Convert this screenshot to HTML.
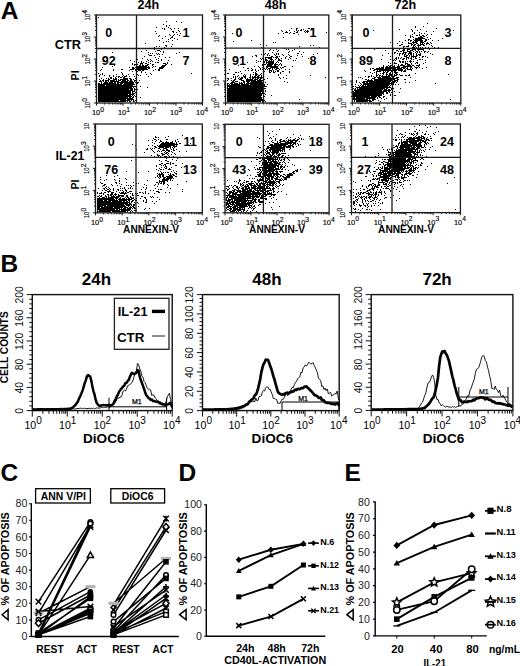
<!DOCTYPE html>
<html><head><meta charset="utf-8"><title>Figure</title>
<style>html,body{margin:0;padding:0;background:#fff;width:520px;height:666px;overflow:hidden}svg{display:block}</style>
</head><body>
<svg width="520" height="666" viewBox="0 0 520 666" font-family='"Liberation Sans", sans-serif'><defs><filter id="bl" x="-5%" y="-5%" width="110%" height="110%"><feGaussianBlur stdDeviation="0.35"/></filter></defs><text x="0.8" y="18.6" font-size="24.5" font-weight="bold">A</text>
<text x="0.6" y="272" font-size="24.5" font-weight="bold">B</text>
<text x="0.4" y="480.6" font-size="24.5" font-weight="bold">C</text>
<text x="178.6" y="480.8" font-size="24.5" font-weight="bold">D</text>
<text x="344.6" y="480.8" font-size="24.5" font-weight="bold">E</text>
<path d="M98 17.5h1M166 21.5h1M176 21.5h1M181 22.5h1M163 24.5h1M166 25.5h1M169 25.5h1M166 26.5h1M156 27.5h1M168 27.5h1M162 28.5h1M164 28.5h1M170 28.5h1M174 28.5h1M178 28.5h1M164 29.5h1M171 29.5h1M178 30.5h1M155 31.5h1M172 31.5h2M179 31.5h1M173 32.5h1M176 32.5h1M156 33.5h1M180 33.5h1M169 34.5h1M174 34.5h1M177 34.5h1M159 35.5h1M170 35.5h1M173 35.5h1M179 35.5h1M158 36.5h1M165 36.5h1M172 36.5h1M171 37.5h2M162 38.5h1M170 38.5h1M174 38.5h1M168 39.5h1M177 39.5h1M159 40.5h1M172 40.5h1M166 41.5h1M168 41.5h1M163 42.5h1M145 43.5h1M172 44.5h1M165 45.5h2M156 46.5h1M159 46.5h1M166 46.5h1M171 46.5h1M154 47.5h1M164 47.5h1M145 48.5h1M153 48.5h1M158 48.5h2M163 48.5h1M167 48.5h1M172 48.5h1M187 48.5h1M154 49.5h1M161 49.5h1M146 50.5h1M157 50.5h3M141 51.5h1M155 51.5h1M160 51.5h1M163 51.5h1M112 52.5h1M148 52.5h1M163 52.5h1M179 52.5h1M150 53.5h1M152 53.5h1M156 53.5h1M158 53.5h1M176 53.5h1M148 54.5h1M157 54.5h1M159 54.5h1M162 54.5h1M149 55.5h3M154 55.5h1M144 56.5h1M159 56.5h1M155 57.5h1M165 57.5h1M169 57.5h1M142 58.5h1M158 58.5h1M137 59.5h1M147 59.5h1M150 59.5h1M156 59.5h1M161 59.5h1M104 60.5h1M130 60.5h1M148 60.5h1M151 60.5h1M158 60.5h1M161 60.5h1M168 60.5h1M134 61.5h1M141 61.5h1M146 61.5h1M150 61.5h1M152 61.5h1M138 62.5h1M141 62.5h1M143 62.5h1M148 62.5h1M155 62.5h1M157 62.5h2M167 62.5h1M132 63.5h1M140 63.5h3M145 63.5h2M150 63.5h1M163 63.5h3M167 63.5h1M132 64.5h1M134 64.5h2M137 64.5h1M140 64.5h1M142 64.5h1M147 64.5h2M152 64.5h2M165 64.5h2M171 64.5h1M114 65.5h1M134 65.5h1M136 65.5h1M139 65.5h2M142 65.5h2M145 65.5h3M152 65.5h1M162 65.5h4M112 66.5h1M137 66.5h10M148 66.5h1M153 66.5h1M155 66.5h1M161 66.5h4M102 67.5h1M129 67.5h1M132 67.5h2M135 67.5h15M152 67.5h1M159 67.5h5M132 68.5h3M137 68.5h10M148 68.5h2M159 68.5h4M101 69.5h1M113 69.5h1M121 69.5h2M130 69.5h4M135 69.5h13M155 69.5h1M158 69.5h2M100 70.5h1M113 70.5h1M129 70.5h1M135 70.5h2M138 70.5h3M142 70.5h2M153 70.5h1M158 70.5h2M132 71.5h1M137 71.5h1M141 71.5h1M121 72.5h1M141 72.5h1M145 72.5h1M98 73.5h1M102 73.5h1M122 73.5h1M136 73.5h1M150 73.5h1M191 73.5h1M100 74.5h1M102 74.5h1M116 74.5h1M122 74.5h1M128 74.5h1M133 74.5h1M137 74.5h1M146 74.5h1M151 74.5h1M99 75.5h1M104 75.5h1M109 75.5h1M113 75.5h1M123 75.5h1M126 75.5h1M138 75.5h1M140 75.5h1M99 76.5h1M109 76.5h1M113 76.5h1M116 76.5h1M118 76.5h2M122 76.5h1M124 76.5h3M129 76.5h1M134 76.5h1M148 76.5h1M110 77.5h2M115 77.5h1M118 77.5h1M120 77.5h2M123 77.5h2M101 78.5h1M106 78.5h1M108 78.5h1M110 78.5h2M113 78.5h1M115 78.5h2M123 78.5h5M129 78.5h2M135 78.5h1M99 79.5h1M103 79.5h1M108 79.5h2M113 79.5h4M118 79.5h1M120 79.5h8M130 79.5h2M133 79.5h1M100 80.5h1M102 80.5h2M105 80.5h4M110 80.5h5M116 80.5h1M118 80.5h3M122 80.5h4M127 80.5h2M130 80.5h2M134 80.5h2M139 80.5h1M99 81.5h3M103 81.5h1M105 81.5h2M108 81.5h1M110 81.5h9M121 81.5h7M129 81.5h4M134 81.5h1M136 81.5h1M101 82.5h1M104 82.5h4M109 82.5h4M114 82.5h2M117 82.5h17M135 82.5h1M137 82.5h2M98 83.5h2M101 83.5h1M103 83.5h13M117 83.5h2M120 83.5h3M124 83.5h10M137 83.5h1M98 84.5h24M123 84.5h12M98 85.5h7M106 85.5h27M136 85.5h1M98 86.5h38M140 86.5h1M98 87.5h34M133 87.5h1M147 87.5h1M98 88.5h35M134 88.5h1M136 88.5h1M98 89.5h31M130 89.5h3M134 89.5h2M137 89.5h1M98 90.5h35M134 90.5h1M98 91.5h33M132 91.5h3M136 91.5h1M98 92.5h33M132 92.5h1M135 92.5h2M98 93.5h33M132 93.5h3M98 94.5h30M129 94.5h5M98 95.5h33M132 95.5h1M134 95.5h1M98 96.5h34M133 96.5h1M135 96.5h1M98 97.5h30M129 97.5h2M132 97.5h2M136 97.5h1M140 97.5h1M98 98.5h35M98 99.5h28M127 99.5h7M98 100.5h21M120 100.5h10M131 100.5h1M133 100.5h1M135 100.5h1M98 101.5h28M127 101.5h1M129 101.5h2M133 101.5h2" stroke="#000" stroke-width="1" filter="url(#bl)"/>
<rect x="96.5" y="15" width="106" height="88" stroke="#1a1a1a" stroke-width="1.3" fill="none"/>
<path d="M136.5 15L136.5 103" stroke="#1a1a1a" stroke-width="1.3"/>
<path d="M96.5 48.5L202.5 48.5" stroke="#1a1a1a" stroke-width="1.3"/>
<path d="M96.5 103v2.6M96.5 103h-2.6M104.48 103v1.5M96.5 96.38h-1.5M109.14 103v1.5M96.5 92.5h-1.5M112.45 103v1.5M96.5 89.75h-1.5M115.02 103v1.5M96.5 87.62h-1.5M117.12 103v1.5M96.5 85.88h-1.5M118.9 103v1.5M96.5 84.41h-1.5M120.43 103v1.5M96.5 83.13h-1.5M121.79 103v1.5M96.5 82.01h-1.5M123 103v2.6M96.5 81h-2.6M130.98 103v1.5M96.5 74.38h-1.5M135.64 103v1.5M96.5 70.5h-1.5M138.95 103v1.5M96.5 67.75h-1.5M141.52 103v1.5M96.5 65.62h-1.5M143.62 103v1.5M96.5 63.88h-1.5M145.4 103v1.5M96.5 62.41h-1.5M146.93 103v1.5M96.5 61.13h-1.5M148.29 103v1.5M96.5 60.01h-1.5M149.5 103v2.6M96.5 59h-2.6M157.48 103v1.5M96.5 52.38h-1.5M162.14 103v1.5M96.5 48.5h-1.5M165.45 103v1.5M96.5 45.75h-1.5M168.02 103v1.5M96.5 43.62h-1.5M170.12 103v1.5M96.5 41.88h-1.5M171.9 103v1.5M96.5 40.41h-1.5M173.43 103v1.5M96.5 39.13h-1.5M174.79 103v1.5M96.5 38.01h-1.5M176 103v2.6M96.5 37h-2.6M183.98 103v1.5M96.5 30.38h-1.5M188.64 103v1.5M96.5 26.5h-1.5M191.95 103v1.5M96.5 23.75h-1.5M194.52 103v1.5M96.5 21.62h-1.5M196.62 103v1.5M96.5 19.88h-1.5M198.4 103v1.5M96.5 18.41h-1.5M199.93 103v1.5M96.5 17.13h-1.5M201.29 103v1.5M96.5 16.01h-1.5M202.5 103v2.6M96.5 15h-2.6" stroke="#1a1a1a" stroke-width="1"/>
<text x="91.9" y="115.1" font-size="7.4" stroke="#000" stroke-width="0.15">10<tspan dy="-3.3" font-size="6.8">0</tspan></text>
<text x="117.95" y="115.1" font-size="7.4" stroke="#000" stroke-width="0.15">10<tspan dy="-3.3" font-size="6.8">1</tspan></text>
<text x="144" y="115.1" font-size="7.4" stroke="#000" stroke-width="0.15">10<tspan dy="-3.3" font-size="6.8">2</tspan></text>
<text x="170.05" y="115.1" font-size="7.4" stroke="#000" stroke-width="0.15">10<tspan dy="-3.3" font-size="6.8">3</tspan></text>
<text x="196.1" y="115.1" font-size="7.4" stroke="#000" stroke-width="0.15">10<tspan dy="-3.3" font-size="6.8">4</tspan></text>
<text transform="translate(90.3 108.5) rotate(-90)" font-size="7.6" textLength="6.4" lengthAdjust="spacingAndGlyphs" stroke="#000" stroke-width="0.15">10</text>
<text transform="translate(86.5 101.8) rotate(-90)" font-size="6.8" stroke="#000" stroke-width="0.15">0</text>
<text transform="translate(90.3 86.5) rotate(-90)" font-size="7.6" textLength="6.4" lengthAdjust="spacingAndGlyphs" stroke="#000" stroke-width="0.15">10</text>
<text transform="translate(86.5 79.8) rotate(-90)" font-size="6.8" stroke="#000" stroke-width="0.15">1</text>
<text transform="translate(90.3 64.5) rotate(-90)" font-size="7.6" textLength="6.4" lengthAdjust="spacingAndGlyphs" stroke="#000" stroke-width="0.15">10</text>
<text transform="translate(86.5 57.8) rotate(-90)" font-size="6.8" stroke="#000" stroke-width="0.15">2</text>
<text transform="translate(90.3 42.5) rotate(-90)" font-size="7.6" textLength="6.4" lengthAdjust="spacingAndGlyphs" stroke="#000" stroke-width="0.15">10</text>
<text transform="translate(86.5 35.8) rotate(-90)" font-size="6.8" stroke="#000" stroke-width="0.15">3</text>
<text transform="translate(90.3 20.5) rotate(-90)" font-size="7.6" textLength="6.4" lengthAdjust="spacingAndGlyphs" stroke="#000" stroke-width="0.15">10</text>
<text transform="translate(86.5 13.8) rotate(-90)" font-size="6.8" stroke="#000" stroke-width="0.15">4</text>
<text x="108.75" y="36.5" font-size="12.5" font-weight="bold" text-anchor="middle">0</text>
<text x="186" y="36.5" font-size="12.5" font-weight="bold" text-anchor="middle">1</text>
<text x="108.75" y="65" font-size="12.5" font-weight="bold" text-anchor="middle">92</text>
<text x="186" y="65" font-size="12.5" font-weight="bold" text-anchor="middle">7</text>
<path d="M291 28.5h1M296 28.5h2M308 28.5h2M311 28.5h1M296 29.5h1M301 29.5h1M303 29.5h1M281 30.5h1M289 30.5h1M296 30.5h1M298 30.5h1M300 30.5h2M305 30.5h1M307 30.5h1M282 31.5h1M286 31.5h1M294 31.5h1M297 31.5h1M304 31.5h1M306 31.5h3M313 31.5h1M285 32.5h3M290 32.5h1M296 32.5h2M305 32.5h1M307 32.5h1M326 32.5h1M232 33.5h1M278 33.5h1M283 33.5h1M289 33.5h1M293 33.5h2M298 34.5h1M283 37.5h1M251 40.5h1M233 41.5h1M273 42.5h1M275 42.5h1M260 44.5h1M266 45.5h1M310 45.5h1M313 45.5h1M299 46.5h1M261 47.5h1M319 47.5h1M284 48.5h1M270 49.5h1M276 49.5h1M286 49.5h1M288 49.5h1M294 49.5h1M269 50.5h1M273 50.5h1M278 50.5h1M292 50.5h1M263 51.5h1M277 51.5h1M289 51.5h1M299 51.5h1M263 52.5h1M272 52.5h1M288 52.5h1M303 52.5h1M265 53.5h1M268 53.5h1M276 53.5h1M278 53.5h1M297 53.5h2M317 53.5h1M261 54.5h1M264 54.5h1M267 54.5h1M274 54.5h1M276 54.5h1M278 54.5h1M282 54.5h1M288 54.5h1M301 54.5h1M313 54.5h1M255 55.5h2M267 55.5h1M269 55.5h1M275 55.5h1M283 55.5h1M289 55.5h1M297 55.5h1M252 56.5h1M256 56.5h1M271 56.5h2M276 56.5h2M279 56.5h1M286 56.5h1M290 56.5h2M302 56.5h1M265 57.5h7M273 57.5h1M275 57.5h3M285 57.5h1M289 57.5h1M311 57.5h1M260 58.5h1M262 58.5h2M265 58.5h1M268 58.5h4M276 58.5h1M278 58.5h1M281 58.5h1M285 58.5h1M290 58.5h1M296 58.5h1M308 58.5h1M261 59.5h1M263 59.5h1M265 59.5h2M270 59.5h3M275 59.5h1M278 59.5h2M288 59.5h1M256 60.5h1M263 60.5h1M265 60.5h3M269 60.5h1M271 60.5h1M273 60.5h1M278 60.5h4M293 60.5h1M295 60.5h1M258 61.5h1M260 61.5h1M263 61.5h2M266 61.5h1M268 61.5h6M277 61.5h1M281 61.5h1M237 62.5h1M247 62.5h1M256 62.5h1M264 62.5h1M266 62.5h8M276 62.5h1M278 62.5h1M263 63.5h1M266 63.5h1M268 63.5h6M275 63.5h1M280 63.5h1M262 64.5h1M264 64.5h2M267 64.5h6M274 64.5h4M279 64.5h1M281 64.5h1M238 65.5h1M262 65.5h1M267 65.5h5M274 65.5h2M278 65.5h1M281 65.5h1M254 66.5h1M258 66.5h1M266 66.5h12M284 66.5h2M292 66.5h1M243 67.5h1M259 67.5h1M262 67.5h1M266 67.5h2M270 67.5h8M280 67.5h1M282 67.5h2M247 68.5h2M251 68.5h1M260 68.5h1M264 68.5h1M266 68.5h1M268 68.5h3M272 68.5h1M274 68.5h1M276 68.5h3M281 68.5h1M229 69.5h1M252 69.5h1M255 69.5h1M260 69.5h1M262 69.5h1M265 69.5h1M267 69.5h1M269 69.5h1M272 69.5h1M275 69.5h2M279 69.5h1M285 69.5h1M289 69.5h1M245 70.5h1M248 70.5h1M251 70.5h2M255 70.5h1M258 70.5h1M269 70.5h3M273 70.5h1M277 70.5h2M240 71.5h1M256 71.5h1M264 71.5h1M269 71.5h1M271 71.5h1M273 71.5h1M275 71.5h1M277 71.5h2M282 71.5h2M289 71.5h1M235 72.5h2M238 72.5h1M253 72.5h1M255 72.5h1M269 72.5h2M273 72.5h2M280 72.5h1M289 72.5h1M227 73.5h2M241 73.5h1M255 73.5h2M261 73.5h1M280 73.5h1M233 74.5h2M244 74.5h1M250 74.5h1M253 74.5h1M255 74.5h3M260 74.5h1M278 74.5h1M238 75.5h1M243 75.5h1M245 75.5h1M250 75.5h1M255 75.5h2M258 75.5h2M261 75.5h1M278 75.5h1M286 75.5h1M310 75.5h1M233 76.5h1M235 76.5h1M237 76.5h1M243 76.5h3M250 76.5h1M252 76.5h1M254 76.5h2M257 76.5h2M261 76.5h1M263 76.5h1M233 77.5h1M235 77.5h1M239 77.5h1M241 77.5h2M244 77.5h2M249 77.5h2M252 77.5h11M279 77.5h1M283 77.5h1M325 77.5h1M227 78.5h2M231 78.5h1M235 78.5h1M238 78.5h1M240 78.5h3M245 78.5h1M247 78.5h1M250 78.5h1M252 78.5h2M255 78.5h1M257 78.5h2M260 78.5h2M267 78.5h1M280 78.5h1M286 78.5h1M228 79.5h1M234 79.5h2M239 79.5h3M246 79.5h7M254 79.5h4M259 79.5h2M263 79.5h2M227 80.5h1M231 80.5h1M233 80.5h2M241 80.5h3M246 80.5h10M257 80.5h7M232 81.5h2M235 81.5h3M243 81.5h2M246 81.5h4M251 81.5h11M263 81.5h1M284 81.5h1M231 82.5h4M239 82.5h1M241 82.5h1M243 82.5h2M247 82.5h2M250 82.5h14M265 82.5h1M287 82.5h1M227 83.5h2M230 83.5h3M234 83.5h4M239 83.5h4M244 83.5h1M246 83.5h18M227 84.5h1M229 84.5h1M231 84.5h9M241 84.5h8M250 84.5h15M267 84.5h1M227 85.5h38M227 86.5h40M227 87.5h1M229 87.5h35M227 88.5h39M227 89.5h37M227 90.5h37M265 90.5h1M227 91.5h37M265 91.5h1M227 92.5h34M262 92.5h2M227 93.5h36M264 93.5h1M227 94.5h35M265 94.5h1M227 95.5h35M271 95.5h1M227 96.5h34M264 96.5h1M227 97.5h35M263 97.5h1M227 98.5h35M227 99.5h37M299 99.5h1M227 100.5h36M264 100.5h1M227 101.5h34M262 101.5h2M265 101.5h1" stroke="#000" stroke-width="1" filter="url(#bl)"/>
<rect x="225.5" y="15" width="103.3" height="88" stroke="#1a1a1a" stroke-width="1.3" fill="none"/>
<path d="M263.5 15L263.5 103" stroke="#1a1a1a" stroke-width="1.3"/>
<path d="M225.5 48.2L328.8 48.2" stroke="#1a1a1a" stroke-width="1.3"/>
<path d="M225.5 103v2.6M225.5 103h-2.6M233.27 103v1.5M225.5 96.38h-1.5M237.82 103v1.5M225.5 92.5h-1.5M241.05 103v1.5M225.5 89.75h-1.5M243.55 103v1.5M225.5 87.62h-1.5M245.6 103v1.5M225.5 85.88h-1.5M247.32 103v1.5M225.5 84.41h-1.5M248.82 103v1.5M225.5 83.13h-1.5M250.14 103v1.5M225.5 82.01h-1.5M251.32 103v2.6M225.5 81h-2.6M259.1 103v1.5M225.5 74.38h-1.5M263.65 103v1.5M225.5 70.5h-1.5M266.87 103v1.5M225.5 67.75h-1.5M269.38 103v1.5M225.5 65.62h-1.5M271.42 103v1.5M225.5 63.88h-1.5M273.15 103v1.5M225.5 62.41h-1.5M274.65 103v1.5M225.5 61.13h-1.5M275.97 103v1.5M225.5 60.01h-1.5M277.15 103v2.6M225.5 59h-2.6M284.92 103v1.5M225.5 52.38h-1.5M289.47 103v1.5M225.5 48.5h-1.5M292.7 103v1.5M225.5 45.75h-1.5M295.2 103v1.5M225.5 43.62h-1.5M297.25 103v1.5M225.5 41.88h-1.5M298.97 103v1.5M225.5 40.41h-1.5M300.47 103v1.5M225.5 39.13h-1.5M301.79 103v1.5M225.5 38.01h-1.5M302.98 103v2.6M225.5 37h-2.6M310.75 103v1.5M225.5 30.38h-1.5M315.3 103v1.5M225.5 26.5h-1.5M318.52 103v1.5M225.5 23.75h-1.5M321.03 103v1.5M225.5 21.62h-1.5M323.07 103v1.5M225.5 19.88h-1.5M324.8 103v1.5M225.5 18.41h-1.5M326.3 103v1.5M225.5 17.13h-1.5M327.62 103v1.5M225.5 16.01h-1.5M328.8 103v2.6M225.5 15h-2.6" stroke="#1a1a1a" stroke-width="1"/>
<text x="220.9" y="115.1" font-size="7.4" stroke="#000" stroke-width="0.15">10<tspan dy="-3.3" font-size="6.8">0</tspan></text>
<text x="246.28" y="115.1" font-size="7.4" stroke="#000" stroke-width="0.15">10<tspan dy="-3.3" font-size="6.8">1</tspan></text>
<text x="271.65" y="115.1" font-size="7.4" stroke="#000" stroke-width="0.15">10<tspan dy="-3.3" font-size="6.8">2</tspan></text>
<text x="297.02" y="115.1" font-size="7.4" stroke="#000" stroke-width="0.15">10<tspan dy="-3.3" font-size="6.8">3</tspan></text>
<text x="322.4" y="115.1" font-size="7.4" stroke="#000" stroke-width="0.15">10<tspan dy="-3.3" font-size="6.8">4</tspan></text>
<text transform="translate(219.3 108.5) rotate(-90)" font-size="7.6" textLength="6.4" lengthAdjust="spacingAndGlyphs" stroke="#000" stroke-width="0.15">10</text>
<text transform="translate(215.5 101.8) rotate(-90)" font-size="6.8" stroke="#000" stroke-width="0.15">0</text>
<text transform="translate(219.3 86.5) rotate(-90)" font-size="7.6" textLength="6.4" lengthAdjust="spacingAndGlyphs" stroke="#000" stroke-width="0.15">10</text>
<text transform="translate(215.5 79.8) rotate(-90)" font-size="6.8" stroke="#000" stroke-width="0.15">1</text>
<text transform="translate(219.3 64.5) rotate(-90)" font-size="7.6" textLength="6.4" lengthAdjust="spacingAndGlyphs" stroke="#000" stroke-width="0.15">10</text>
<text transform="translate(215.5 57.8) rotate(-90)" font-size="6.8" stroke="#000" stroke-width="0.15">2</text>
<text transform="translate(219.3 42.5) rotate(-90)" font-size="7.6" textLength="6.4" lengthAdjust="spacingAndGlyphs" stroke="#000" stroke-width="0.15">10</text>
<text transform="translate(215.5 35.8) rotate(-90)" font-size="6.8" stroke="#000" stroke-width="0.15">3</text>
<text transform="translate(219.3 20.5) rotate(-90)" font-size="7.6" textLength="6.4" lengthAdjust="spacingAndGlyphs" stroke="#000" stroke-width="0.15">10</text>
<text transform="translate(215.5 13.8) rotate(-90)" font-size="6.8" stroke="#000" stroke-width="0.15">4</text>
<text x="238.9" y="36.5" font-size="12.5" font-weight="bold" text-anchor="middle">0</text>
<text x="312.9" y="36.5" font-size="12.5" font-weight="bold" text-anchor="middle">1</text>
<text x="238.9" y="65" font-size="12.5" font-weight="bold" text-anchor="middle">91</text>
<text x="312.9" y="65" font-size="12.5" font-weight="bold" text-anchor="middle">8</text>
<path d="M427 23.5h1M415 26.5h1M423 26.5h1M415 27.5h1M436 28.5h1M399 29.5h1M411 29.5h1M420 29.5h1M373 30.5h1M412 30.5h1M417 30.5h1M453 30.5h1M412 31.5h1M426 31.5h1M433 31.5h1M368 32.5h1M414 32.5h1M419 32.5h1M414 33.5h1M421 33.5h1M424 33.5h1M412 34.5h1M419 34.5h1M427 34.5h1M431 34.5h1M405 35.5h1M410 35.5h1M416 35.5h2M419 35.5h1M422 35.5h2M426 35.5h1M410 36.5h1M412 36.5h1M420 36.5h2M423 36.5h2M410 37.5h1M413 37.5h1M418 37.5h5M427 37.5h1M415 38.5h10M430 38.5h1M442 38.5h1M408 39.5h2M413 39.5h1M415 39.5h7M425 39.5h2M428 39.5h1M405 40.5h1M408 40.5h1M410 40.5h2M414 40.5h9M425 40.5h2M432 40.5h1M438 40.5h1M399 41.5h1M410 41.5h1M413 41.5h1M415 41.5h3M420 41.5h3M424 41.5h2M390 42.5h1M402 42.5h1M408 42.5h1M412 42.5h5M420 42.5h4M427 42.5h1M430 42.5h1M397 43.5h1M408 43.5h4M413 43.5h1M416 43.5h2M420 43.5h1M422 43.5h1M424 43.5h1M426 43.5h3M431 43.5h1M401 44.5h2M411 44.5h2M414 44.5h2M418 44.5h1M420 44.5h4M426 44.5h1M429 44.5h1M399 45.5h2M408 45.5h1M411 45.5h1M413 45.5h2M417 45.5h4M423 45.5h2M431 45.5h1M403 46.5h2M406 46.5h3M413 46.5h1M415 46.5h1M418 46.5h1M432 46.5h1M403 47.5h1M412 47.5h3M416 47.5h1M418 47.5h1M420 47.5h1M422 47.5h1M425 47.5h1M428 47.5h1M434 47.5h1M438 47.5h1M399 48.5h1M405 48.5h2M410 48.5h2M416 48.5h2M420 48.5h2M424 48.5h1M431 48.5h1M374 49.5h1M393 49.5h1M399 49.5h1M403 49.5h2M407 49.5h3M412 49.5h4M417 49.5h7M429 49.5h1M385 50.5h1M396 50.5h2M402 50.5h3M407 50.5h1M410 50.5h3M415 50.5h1M418 50.5h1M423 50.5h1M398 51.5h1M400 51.5h2M403 51.5h1M407 51.5h4M413 51.5h1M416 51.5h2M419 51.5h1M421 51.5h1M424 51.5h2M428 51.5h1M394 52.5h2M403 52.5h4M409 52.5h3M415 52.5h1M417 52.5h1M419 52.5h1M424 52.5h1M427 52.5h1M388 53.5h1M394 53.5h1M397 53.5h1M399 53.5h2M402 53.5h2M405 53.5h1M408 53.5h4M413 53.5h1M416 53.5h1M420 53.5h1M430 53.5h1M399 54.5h1M402 54.5h1M404 54.5h2M408 54.5h1M410 54.5h2M413 54.5h1M416 54.5h1M418 54.5h3M432 54.5h1M382 55.5h1M399 55.5h1M404 55.5h1M406 55.5h2M409 55.5h1M411 55.5h1M413 55.5h1M416 55.5h2M419 55.5h2M390 56.5h1M392 56.5h1M404 56.5h3M409 56.5h1M411 56.5h6M422 56.5h2M425 56.5h1M396 57.5h1M398 57.5h1M401 57.5h1M406 57.5h3M411 57.5h1M413 57.5h1M415 57.5h1M419 57.5h1M422 57.5h1M427 57.5h1M395 58.5h2M398 58.5h1M400 58.5h1M403 58.5h2M406 58.5h1M408 58.5h1M410 58.5h2M415 58.5h2M381 59.5h1M390 59.5h1M392 59.5h1M394 59.5h1M396 59.5h1M402 59.5h2M406 59.5h1M411 59.5h1M413 59.5h1M419 59.5h2M422 59.5h1M393 60.5h1M395 60.5h1M399 60.5h1M410 60.5h1M417 60.5h1M425 60.5h1M399 61.5h2M402 61.5h2M405 61.5h1M407 61.5h1M409 61.5h3M413 61.5h1M363 62.5h1M388 62.5h1M394 62.5h1M400 62.5h1M402 62.5h2M405 62.5h1M410 62.5h1M416 62.5h2M425 62.5h1M390 63.5h1M394 63.5h3M405 63.5h3M411 63.5h1M415 63.5h1M417 63.5h1M423 63.5h1M398 64.5h1M401 64.5h2M405 64.5h1M407 64.5h3M411 64.5h1M419 64.5h1M383 65.5h1M388 65.5h1M390 65.5h3M394 65.5h1M398 65.5h1M400 65.5h5M407 65.5h4M412 65.5h2M416 65.5h4M383 66.5h1M386 66.5h2M389 66.5h2M392 66.5h3M397 66.5h3M403 66.5h9M414 66.5h1M418 66.5h1M379 67.5h1M381 67.5h3M385 67.5h15M401 67.5h5M407 67.5h1M410 67.5h2M415 67.5h3M419 67.5h1M426 67.5h1M370 68.5h1M372 68.5h2M376 68.5h8M385 68.5h11M397 68.5h5M403 68.5h2M406 68.5h2M410 68.5h1M412 68.5h1M416 68.5h1M422 68.5h1M370 69.5h1M374 69.5h17M392 69.5h11M405 69.5h1M407 69.5h5M364 70.5h1M373 70.5h2M377 70.5h1M379 70.5h18M398 70.5h5M404 70.5h2M411 70.5h1M365 71.5h1M376 71.5h5M383 71.5h1M385 71.5h1M387 71.5h2M391 71.5h2M394 71.5h2M401 71.5h1M403 71.5h3M370 72.5h1M374 72.5h1M376 72.5h1M383 72.5h2M386 72.5h2M390 72.5h1M394 72.5h4M372 73.5h1M376 73.5h1M380 73.5h1M382 73.5h2M386 73.5h1M389 73.5h2M392 73.5h1M395 73.5h2M415 73.5h1M376 74.5h1M378 74.5h1M383 74.5h1M386 74.5h2M389 74.5h3M394 74.5h1M396 74.5h2M399 74.5h1M409 74.5h1M448 74.5h1M371 75.5h1M376 75.5h2M379 75.5h2M382 75.5h1M386 75.5h1M388 75.5h5M394 75.5h3M400 75.5h3M405 75.5h2M408 75.5h2M365 76.5h1M368 76.5h2M371 76.5h1M373 76.5h1M376 76.5h1M379 76.5h1M381 76.5h9M391 76.5h4M358 77.5h1M360 77.5h1M368 77.5h1M374 77.5h2M377 77.5h4M382 77.5h9M392 77.5h2M396 77.5h3M410 77.5h1M362 78.5h1M372 78.5h3M378 78.5h20M365 79.5h2M368 79.5h1M371 79.5h1M374 79.5h18M393 79.5h2M397 79.5h2M404 79.5h2M356 80.5h1M367 80.5h6M374 80.5h19M394 80.5h4M415 80.5h1M356 81.5h1M363 81.5h28M392 81.5h4M397 81.5h1M356 82.5h1M359 82.5h1M362 82.5h3M366 82.5h2M369 82.5h21M391 82.5h4M396 82.5h1M405 82.5h1M409 82.5h1M360 83.5h1M363 83.5h31M435 83.5h1M355 84.5h1M361 84.5h1M363 84.5h27M391 84.5h3M395 84.5h1M398 84.5h1M358 85.5h1M360 85.5h1M362 85.5h2M365 85.5h1M367 85.5h22M390 85.5h1M392 85.5h1M353 86.5h1M355 86.5h1M359 86.5h1M361 86.5h27M389 86.5h1M356 87.5h35M392 87.5h1M353 88.5h1M355 88.5h1M357 88.5h1M359 88.5h26M386 88.5h2M391 88.5h3M400 88.5h1M354 89.5h2M357 89.5h26M384 89.5h3M388 89.5h2M391 89.5h1M354 90.5h28M383 90.5h8M353 91.5h1M355 91.5h32M388 91.5h2M394 91.5h1M353 92.5h31M386 92.5h2M389 92.5h1M391 92.5h1M399 92.5h1M353 93.5h31M386 93.5h2M353 94.5h29M383 94.5h1M390 94.5h1M353 95.5h29M390 95.5h1M394 95.5h2M353 96.5h17M371 96.5h6M378 96.5h2M383 96.5h2M353 97.5h2M356 97.5h20M377 97.5h1M379 97.5h2M383 97.5h1M353 98.5h12M366 98.5h9M377 98.5h1M381 98.5h1M386 98.5h1M353 99.5h15M369 99.5h1M372 99.5h4M384 99.5h1M450 99.5h1M354 100.5h1M356 100.5h15M372 100.5h2M378 100.5h1M354 101.5h1M356 101.5h12M369 101.5h3M380 101.5h1" stroke="#000" stroke-width="1" filter="url(#bl)"/>
<rect x="352.3" y="15" width="108.5" height="88" stroke="#1a1a1a" stroke-width="1.3" fill="none"/>
<path d="M392.5 15L392.5 103" stroke="#1a1a1a" stroke-width="1.3"/>
<path d="M352.3 48.3L460.8 48.3" stroke="#1a1a1a" stroke-width="1.3"/>
<path d="M352.3 103v2.6M352.3 103h-2.6M360.47 103v1.5M352.3 96.38h-1.5M365.24 103v1.5M352.3 92.5h-1.5M368.63 103v1.5M352.3 89.75h-1.5M371.26 103v1.5M352.3 87.62h-1.5M373.41 103v1.5M352.3 85.88h-1.5M375.22 103v1.5M352.3 84.41h-1.5M376.8 103v1.5M352.3 83.13h-1.5M378.18 103v1.5M352.3 82.01h-1.5M379.43 103v2.6M352.3 81h-2.6M387.59 103v1.5M352.3 74.38h-1.5M392.37 103v1.5M352.3 70.5h-1.5M395.76 103v1.5M352.3 67.75h-1.5M398.38 103v1.5M352.3 65.62h-1.5M400.53 103v1.5M352.3 63.88h-1.5M402.35 103v1.5M352.3 62.41h-1.5M403.92 103v1.5M352.3 61.13h-1.5M405.31 103v1.5M352.3 60.01h-1.5M406.55 103v2.6M352.3 59h-2.6M414.72 103v1.5M352.3 52.38h-1.5M419.49 103v1.5M352.3 48.5h-1.5M422.88 103v1.5M352.3 45.75h-1.5M425.51 103v1.5M352.3 43.62h-1.5M427.66 103v1.5M352.3 41.88h-1.5M429.47 103v1.5M352.3 40.41h-1.5M431.05 103v1.5M352.3 39.13h-1.5M432.43 103v1.5M352.3 38.01h-1.5M433.68 103v2.6M352.3 37h-2.6M441.84 103v1.5M352.3 30.38h-1.5M446.62 103v1.5M352.3 26.5h-1.5M450.01 103v1.5M352.3 23.75h-1.5M452.63 103v1.5M352.3 21.62h-1.5M454.78 103v1.5M352.3 19.88h-1.5M456.6 103v1.5M352.3 18.41h-1.5M458.17 103v1.5M352.3 17.13h-1.5M459.56 103v1.5M352.3 16.01h-1.5M460.8 103v2.6M352.3 15h-2.6" stroke="#1a1a1a" stroke-width="1"/>
<text x="347.7" y="115.1" font-size="7.4" stroke="#000" stroke-width="0.15">10<tspan dy="-3.3" font-size="6.8">0</tspan></text>
<text x="374.38" y="115.1" font-size="7.4" stroke="#000" stroke-width="0.15">10<tspan dy="-3.3" font-size="6.8">1</tspan></text>
<text x="401.05" y="115.1" font-size="7.4" stroke="#000" stroke-width="0.15">10<tspan dy="-3.3" font-size="6.8">2</tspan></text>
<text x="427.72" y="115.1" font-size="7.4" stroke="#000" stroke-width="0.15">10<tspan dy="-3.3" font-size="6.8">3</tspan></text>
<text x="454.4" y="115.1" font-size="7.4" stroke="#000" stroke-width="0.15">10<tspan dy="-3.3" font-size="6.8">4</tspan></text>
<text transform="translate(346.1 108.5) rotate(-90)" font-size="7.6" textLength="6.4" lengthAdjust="spacingAndGlyphs" stroke="#000" stroke-width="0.15">10</text>
<text transform="translate(342.3 101.8) rotate(-90)" font-size="6.8" stroke="#000" stroke-width="0.15">0</text>
<text transform="translate(346.1 86.5) rotate(-90)" font-size="7.6" textLength="6.4" lengthAdjust="spacingAndGlyphs" stroke="#000" stroke-width="0.15">10</text>
<text transform="translate(342.3 79.8) rotate(-90)" font-size="6.8" stroke="#000" stroke-width="0.15">1</text>
<text transform="translate(346.1 64.5) rotate(-90)" font-size="7.6" textLength="6.4" lengthAdjust="spacingAndGlyphs" stroke="#000" stroke-width="0.15">10</text>
<text transform="translate(342.3 57.8) rotate(-90)" font-size="6.8" stroke="#000" stroke-width="0.15">2</text>
<text transform="translate(346.1 42.5) rotate(-90)" font-size="7.6" textLength="6.4" lengthAdjust="spacingAndGlyphs" stroke="#000" stroke-width="0.15">10</text>
<text transform="translate(342.3 35.8) rotate(-90)" font-size="6.8" stroke="#000" stroke-width="0.15">3</text>
<text transform="translate(346.1 20.5) rotate(-90)" font-size="7.6" textLength="6.4" lengthAdjust="spacingAndGlyphs" stroke="#000" stroke-width="0.15">10</text>
<text transform="translate(342.3 13.8) rotate(-90)" font-size="6.8" stroke="#000" stroke-width="0.15">4</text>
<text x="366" y="36.5" font-size="12.5" font-weight="bold" text-anchor="middle">0</text>
<text x="448" y="36.5" font-size="12.5" font-weight="bold" text-anchor="middle">3</text>
<text x="366" y="65" font-size="12.5" font-weight="bold" text-anchor="middle">89</text>
<text x="448" y="65" font-size="12.5" font-weight="bold" text-anchor="middle">8</text>
<path d="M182 135.5h1M155 136.5h1M168 136.5h1M155 137.5h2M158 137.5h1M165 137.5h1M153 138.5h1M154 139.5h2M158 139.5h1M166 139.5h2M177 139.5h1M148 140.5h1M152 140.5h1M156 140.5h1M160 140.5h1M175 140.5h1M155 141.5h1M160 141.5h2M166 141.5h1M172 141.5h1M175 141.5h1M178 141.5h1M152 142.5h1M159 142.5h1M162 142.5h2M165 142.5h4M170 142.5h3M176 142.5h1M154 143.5h1M161 143.5h14M176 143.5h1M179 143.5h2M190 143.5h1M132 144.5h1M160 144.5h18M135 145.5h1M148 145.5h1M152 145.5h1M157 145.5h1M159 145.5h16M176 145.5h1M154 146.5h2M158 146.5h13M173 146.5h4M155 147.5h2M159 147.5h5M165 147.5h4M170 147.5h1M172 147.5h1M174 147.5h1M147 148.5h1M150 148.5h1M152 148.5h1M154 148.5h1M158 148.5h2M163 148.5h4M170 148.5h1M173 148.5h1M136 149.5h1M146 149.5h2M151 149.5h1M160 149.5h1M163 149.5h1M166 149.5h2M171 149.5h1M173 149.5h1M176 149.5h1M152 150.5h1M158 150.5h1M162 150.5h3M166 150.5h4M173 150.5h2M153 151.5h1M157 151.5h1M159 151.5h1M161 151.5h1M165 151.5h1M168 151.5h2M171 151.5h1M179 151.5h1M186 151.5h1M144 152.5h1M154 152.5h1M164 152.5h1M166 152.5h2M172 152.5h1M161 153.5h2M165 153.5h2M168 153.5h1M174 153.5h1M157 154.5h1M162 154.5h3M167 154.5h1M171 154.5h1M175 154.5h1M151 155.5h1M157 155.5h3M162 155.5h1M168 155.5h1M154 156.5h1M158 156.5h1M160 156.5h1M164 156.5h3M169 156.5h1M173 156.5h1M158 157.5h3M164 157.5h1M166 158.5h1M177 158.5h1M172 159.5h1M131 160.5h1M159 160.5h1M165 160.5h2M176 160.5h1M161 161.5h1M167 161.5h2M170 162.5h1M161 163.5h2M166 163.5h3M170 163.5h1M172 163.5h2M182 163.5h1M159 164.5h2M164 164.5h2M170 164.5h1M156 165.5h1M161 165.5h1M163 165.5h1M165 165.5h1M175 165.5h2M116 166.5h1M156 166.5h1M165 166.5h2M161 167.5h1M164 167.5h1M166 167.5h1M171 167.5h1M181 167.5h1M159 168.5h1M165 168.5h2M169 168.5h1M156 169.5h1M160 169.5h2M163 169.5h1M168 169.5h3M158 170.5h1M173 170.5h1M126 171.5h1M148 171.5h1M160 171.5h1M171 171.5h1M176 171.5h1M138 172.5h1M161 172.5h1M163 172.5h1M165 172.5h1M167 172.5h2M174 172.5h1M157 173.5h1M159 173.5h1M161 173.5h2M170 173.5h1M175 173.5h2M184 173.5h1M158 174.5h6M168 174.5h1M170 174.5h1M172 174.5h2M176 174.5h1M106 175.5h1M117 175.5h1M157 175.5h1M159 175.5h2M162 175.5h2M169 175.5h3M173 175.5h2M114 176.5h1M157 176.5h1M159 176.5h2M162 176.5h2M166 176.5h7M175 176.5h2M100 177.5h1M155 177.5h1M158 177.5h1M160 177.5h1M163 177.5h3M167 177.5h6M119 178.5h1M125 178.5h1M159 178.5h1M163 178.5h2M166 178.5h6M173 178.5h1M100 179.5h1M106 179.5h1M114 179.5h1M126 179.5h1M162 179.5h7M170 179.5h1M104 180.5h1M115 180.5h1M119 180.5h1M147 180.5h1M159 180.5h1M162 180.5h6M170 180.5h1M172 180.5h1M119 181.5h1M159 181.5h6M167 181.5h1M186 181.5h1M100 182.5h1M115 182.5h2M126 182.5h1M133 182.5h1M156 182.5h2M159 182.5h1M161 182.5h1M163 182.5h2M101 183.5h2M116 183.5h1M119 183.5h1M136 183.5h1M138 183.5h1M158 183.5h1M160 183.5h2M163 183.5h2M104 184.5h2M111 184.5h1M121 184.5h1M144 184.5h1M155 184.5h1M158 184.5h1M163 184.5h1M167 184.5h1M177 184.5h1M103 185.5h2M112 185.5h1M117 185.5h1M126 185.5h1M128 185.5h1M130 185.5h1M133 185.5h1M146 185.5h1M154 185.5h1M168 185.5h1M102 186.5h1M106 186.5h1M120 186.5h1M131 186.5h1M157 186.5h1M105 187.5h1M108 187.5h1M124 187.5h1M130 187.5h1M143 187.5h1M146 187.5h1M167 187.5h1M98 188.5h1M103 188.5h2M106 188.5h1M109 188.5h1M113 188.5h1M120 188.5h1M122 188.5h1M124 188.5h1M128 188.5h1M130 188.5h1M132 188.5h1M146 188.5h1M155 188.5h1M170 188.5h1M104 189.5h1M107 189.5h2M110 189.5h1M113 189.5h1M117 189.5h2M125 189.5h1M141 189.5h1M145 189.5h1M158 189.5h1M160 189.5h2M182 189.5h1M102 190.5h1M105 190.5h2M109 190.5h1M113 190.5h1M118 190.5h1M120 190.5h1M122 190.5h1M125 190.5h2M150 190.5h1M153 190.5h1M107 191.5h4M116 191.5h1M123 191.5h1M126 191.5h1M129 191.5h3M145 191.5h1M156 191.5h3M182 191.5h1M97 192.5h1M101 192.5h1M104 192.5h2M108 192.5h1M111 192.5h3M119 192.5h1M121 192.5h3M125 192.5h1M127 192.5h2M139 192.5h2M142 192.5h1M145 192.5h1M158 192.5h2M165 192.5h1M169 192.5h1M97 193.5h1M99 193.5h3M103 193.5h1M111 193.5h2M115 193.5h1M120 193.5h7M130 193.5h1M132 193.5h1M135 193.5h1M137 193.5h1M143 193.5h1M145 193.5h1M148 193.5h1M154 193.5h1M103 194.5h1M107 194.5h2M110 194.5h3M114 194.5h3M118 194.5h1M124 194.5h1M132 194.5h1M136 194.5h1M99 195.5h1M101 195.5h1M105 195.5h1M108 195.5h1M110 195.5h2M113 195.5h1M115 195.5h1M118 195.5h6M126 195.5h2M132 195.5h2M137 195.5h2M97 196.5h2M100 196.5h2M105 196.5h2M108 196.5h1M111 196.5h4M116 196.5h4M121 196.5h3M126 196.5h2M130 196.5h1M141 196.5h2M150 196.5h1M152 196.5h1M99 197.5h1M102 197.5h3M106 197.5h1M108 197.5h11M120 197.5h1M125 197.5h1M127 197.5h2M130 197.5h2M133 197.5h1M144 197.5h2M151 197.5h1M153 197.5h1M157 197.5h1M97 198.5h17M115 198.5h3M119 198.5h2M122 198.5h3M126 198.5h1M128 198.5h2M131 198.5h3M136 198.5h1M140 198.5h1M145 198.5h1M97 199.5h18M116 199.5h1M118 199.5h14M134 199.5h1M146 199.5h1M159 199.5h1M97 200.5h6M104 200.5h3M108 200.5h10M119 200.5h8M128 200.5h2M132 200.5h2M135 200.5h2M143 200.5h1M146 200.5h1M97 201.5h14M112 201.5h10M123 201.5h2M126 201.5h2M129 201.5h1M131 201.5h2M143 201.5h1M146 201.5h1M152 201.5h1M156 201.5h1M97 202.5h33M131 202.5h1M134 202.5h1M137 202.5h1M145 202.5h2M97 203.5h31M129 203.5h2M135 203.5h1M138 203.5h1M154 203.5h1M97 204.5h27M125 204.5h7M133 204.5h2M97 205.5h9M107 205.5h18M126 205.5h4M131 205.5h1M133 205.5h2M97 206.5h6M104 206.5h22M128 206.5h1M130 206.5h1M132 206.5h2M138 206.5h1M97 207.5h3M101 207.5h12M114 207.5h9M124 207.5h4M129 207.5h3M133 207.5h2M97 208.5h23M121 208.5h1M123 208.5h3M127 208.5h4M132 208.5h1M134 208.5h2M145 208.5h1M149 208.5h1M97 209.5h18M116 209.5h2M119 209.5h12M144 209.5h1M97 210.5h1M99 210.5h21M121 210.5h9M131 210.5h1M134 210.5h3M97 211.5h14M112 211.5h14M127 211.5h1M130 211.5h1M132 211.5h1" stroke="#000" stroke-width="1" filter="url(#bl)"/>
<rect x="95.5" y="124" width="106.8" height="88.8" stroke="#1a1a1a" stroke-width="1.3" fill="none"/>
<path d="M136 124L136 212.8" stroke="#1a1a1a" stroke-width="1.3"/>
<path d="M95.5 157.4L202.3 157.4" stroke="#1a1a1a" stroke-width="1.3"/>
<path d="M95.5 212.8v2.6M95.5 212.8h-2.6M103.54 212.8v1.5M95.5 206.12h-1.5M108.24 212.8v1.5M95.5 202.21h-1.5M111.58 212.8v1.5M95.5 199.43h-1.5M114.16 212.8v1.5M95.5 197.28h-1.5M116.28 212.8v1.5M95.5 195.53h-1.5M118.06 212.8v1.5M95.5 194.04h-1.5M119.61 212.8v1.5M95.5 192.75h-1.5M120.98 212.8v1.5M95.5 191.62h-1.5M122.2 212.8v2.6M95.5 190.6h-2.6M130.24 212.8v1.5M95.5 183.92h-1.5M134.94 212.8v1.5M95.5 180.01h-1.5M138.28 212.8v1.5M95.5 177.23h-1.5M140.86 212.8v1.5M95.5 175.08h-1.5M142.98 212.8v1.5M95.5 173.33h-1.5M144.76 212.8v1.5M95.5 171.84h-1.5M146.31 212.8v1.5M95.5 170.55h-1.5M147.68 212.8v1.5M95.5 169.42h-1.5M148.9 212.8v2.6M95.5 168.4h-2.6M156.94 212.8v1.5M95.5 161.72h-1.5M161.64 212.8v1.5M95.5 157.81h-1.5M164.98 212.8v1.5M95.5 155.03h-1.5M167.56 212.8v1.5M95.5 152.88h-1.5M169.68 212.8v1.5M95.5 151.13h-1.5M171.46 212.8v1.5M95.5 149.64h-1.5M173.01 212.8v1.5M95.5 148.35h-1.5M174.38 212.8v1.5M95.5 147.22h-1.5M175.6 212.8v2.6M95.5 146.2h-2.6M183.64 212.8v1.5M95.5 139.52h-1.5M188.34 212.8v1.5M95.5 135.61h-1.5M191.68 212.8v1.5M95.5 132.83h-1.5M194.26 212.8v1.5M95.5 130.68h-1.5M196.38 212.8v1.5M95.5 128.93h-1.5M198.16 212.8v1.5M95.5 127.44h-1.5M199.71 212.8v1.5M95.5 126.15h-1.5M201.08 212.8v1.5M95.5 125.02h-1.5M202.3 212.8v2.6M95.5 124h-2.6" stroke="#1a1a1a" stroke-width="1"/>
<text x="90.9" y="224.9" font-size="7.4" stroke="#000" stroke-width="0.15">10<tspan dy="-3.3" font-size="6.8">0</tspan></text>
<text x="117.15" y="224.9" font-size="7.4" stroke="#000" stroke-width="0.15">10<tspan dy="-3.3" font-size="6.8">1</tspan></text>
<text x="143.4" y="224.9" font-size="7.4" stroke="#000" stroke-width="0.15">10<tspan dy="-3.3" font-size="6.8">2</tspan></text>
<text x="169.65" y="224.9" font-size="7.4" stroke="#000" stroke-width="0.15">10<tspan dy="-3.3" font-size="6.8">3</tspan></text>
<text x="195.9" y="224.9" font-size="7.4" stroke="#000" stroke-width="0.15">10<tspan dy="-3.3" font-size="6.8">4</tspan></text>
<text transform="translate(89.3 218.3) rotate(-90)" font-size="7.6" textLength="6.4" lengthAdjust="spacingAndGlyphs" stroke="#000" stroke-width="0.15">10</text>
<text transform="translate(85.5 211.6) rotate(-90)" font-size="6.8" stroke="#000" stroke-width="0.15">0</text>
<text transform="translate(89.3 196.1) rotate(-90)" font-size="7.6" textLength="6.4" lengthAdjust="spacingAndGlyphs" stroke="#000" stroke-width="0.15">10</text>
<text transform="translate(85.5 189.4) rotate(-90)" font-size="6.8" stroke="#000" stroke-width="0.15">1</text>
<text transform="translate(89.3 173.9) rotate(-90)" font-size="7.6" textLength="6.4" lengthAdjust="spacingAndGlyphs" stroke="#000" stroke-width="0.15">10</text>
<text transform="translate(85.5 167.2) rotate(-90)" font-size="6.8" stroke="#000" stroke-width="0.15">2</text>
<text transform="translate(89.3 151.7) rotate(-90)" font-size="7.6" textLength="6.4" lengthAdjust="spacingAndGlyphs" stroke="#000" stroke-width="0.15">10</text>
<text transform="translate(85.5 145) rotate(-90)" font-size="6.8" stroke="#000" stroke-width="0.15">3</text>
<text transform="translate(89.3 129.5) rotate(-90)" font-size="7.6" textLength="6.4" lengthAdjust="spacingAndGlyphs" stroke="#000" stroke-width="0.15">10</text>
<text x="111.3" y="145.5" font-size="12.5" font-weight="bold" text-anchor="middle">0</text>
<text x="190" y="145.5" font-size="12.5" font-weight="bold" text-anchor="middle">11</text>
<text x="111.3" y="174" font-size="12.5" font-weight="bold" text-anchor="middle">76</text>
<text x="190" y="174" font-size="12.5" font-weight="bold" text-anchor="middle">13</text>
<path d="M279 129.5h1M267 131.5h1M272 131.5h1M269 133.5h1M276 134.5h1M293 134.5h1M268 135.5h1M300 135.5h1M273 136.5h1M309 136.5h1M257 137.5h1M270 137.5h1M287 137.5h1M290 137.5h1M298 137.5h1M259 138.5h1M269 138.5h1M271 138.5h1M275 138.5h1M286 138.5h1M295 138.5h1M299 138.5h1M301 138.5h1M275 139.5h1M280 139.5h2M288 139.5h1M290 139.5h1M293 139.5h2M297 139.5h2M301 139.5h1M303 139.5h1M272 140.5h1M275 140.5h1M279 140.5h2M283 140.5h2M286 140.5h1M288 140.5h10M265 141.5h1M268 141.5h1M271 141.5h1M277 141.5h1M280 141.5h6M287 141.5h2M290 141.5h3M295 141.5h2M299 141.5h1M272 142.5h2M277 142.5h1M279 142.5h2M285 142.5h11M269 143.5h1M274 143.5h5M280 143.5h12M293 143.5h3M297 143.5h1M270 144.5h3M274 144.5h14M290 144.5h1M292 144.5h2M295 144.5h1M298 144.5h1M300 144.5h1M264 145.5h1M269 145.5h17M288 145.5h5M298 145.5h1M258 146.5h1M263 146.5h1M267 146.5h2M271 146.5h11M283 146.5h8M292 146.5h2M296 146.5h1M259 147.5h2M267 147.5h18M286 147.5h5M293 147.5h1M266 148.5h3M270 148.5h15M290 148.5h1M264 149.5h1M266 149.5h1M269 149.5h12M282 149.5h3M289 149.5h1M262 150.5h2M265 150.5h1M267 150.5h1M269 150.5h2M272 150.5h11M284 150.5h1M310 150.5h1M261 151.5h1M266 151.5h2M270 151.5h1M272 151.5h7M280 151.5h1M282 151.5h1M284 151.5h1M257 152.5h1M260 152.5h2M265 152.5h1M267 152.5h3M271 152.5h8M257 153.5h1M259 153.5h1M266 153.5h4M272 153.5h3M276 153.5h2M279 153.5h1M281 153.5h5M264 154.5h1M266 154.5h1M269 154.5h2M272 154.5h2M276 154.5h1M278 154.5h3M256 155.5h1M261 155.5h1M265 155.5h1M267 155.5h1M270 155.5h3M274 155.5h1M277 155.5h3M282 155.5h2M288 155.5h1M266 156.5h6M273 156.5h4M278 156.5h1M281 156.5h2M285 156.5h1M257 157.5h2M262 157.5h1M264 157.5h1M266 157.5h5M272 157.5h1M275 157.5h1M277 157.5h1M284 157.5h2M259 158.5h2M262 158.5h1M264 158.5h10M275 158.5h1M277 158.5h1M279 158.5h1M284 158.5h1M287 158.5h1M256 159.5h2M262 159.5h3M267 159.5h11M279 159.5h1M281 159.5h1M283 159.5h2M288 159.5h1M261 160.5h1M263 160.5h4M268 160.5h3M272 160.5h2M275 160.5h1M278 160.5h1M280 160.5h2M284 160.5h1M289 160.5h1M251 161.5h1M259 161.5h2M264 161.5h3M268 161.5h1M270 161.5h7M278 161.5h1M283 161.5h1M262 162.5h10M273 162.5h5M279 162.5h2M282 162.5h1M284 162.5h1M288 162.5h1M259 163.5h1M262 163.5h6M269 163.5h4M274 163.5h6M285 163.5h1M262 164.5h15M278 164.5h3M282 164.5h1M292 164.5h1M256 165.5h1M261 165.5h1M263 165.5h16M281 165.5h1M285 165.5h1M294 165.5h1M263 166.5h13M277 166.5h2M280 166.5h3M284 166.5h1M287 166.5h1M254 167.5h1M259 167.5h4M264 167.5h12M278 167.5h1M280 167.5h2M283 167.5h2M318 167.5h1M257 168.5h1M259 168.5h1M262 168.5h1M264 168.5h10M275 168.5h4M280 168.5h1M282 168.5h1M248 169.5h1M255 169.5h1M257 169.5h4M262 169.5h5M268 169.5h12M281 169.5h2M285 169.5h1M297 169.5h1M300 169.5h1M249 170.5h1M260 170.5h1M262 170.5h13M276 170.5h1M288 170.5h1M295 170.5h3M259 171.5h1M261 171.5h1M263 171.5h11M275 171.5h3M279 171.5h4M293 171.5h2M296 171.5h2M257 172.5h2M260 172.5h2M263 172.5h5M269 172.5h2M272 172.5h2M276 172.5h2M280 172.5h1M292 172.5h2M259 173.5h2M262 173.5h5M268 173.5h11M289 173.5h3M293 173.5h2M257 174.5h4M262 174.5h10M273 174.5h7M283 174.5h2M287 174.5h6M247 175.5h1M250 175.5h1M258 175.5h3M263 175.5h9M273 175.5h2M276 175.5h2M280 175.5h2M285 175.5h1M287 175.5h6M255 176.5h2M258 176.5h5M264 176.5h2M267 176.5h7M275 176.5h1M277 176.5h2M280 176.5h1M282 176.5h2M286 176.5h4M261 177.5h3M265 177.5h2M268 177.5h2M271 177.5h3M276 177.5h2M279 177.5h1M283 177.5h7M249 178.5h1M252 178.5h1M254 178.5h1M260 178.5h1M262 178.5h2M265 178.5h5M271 178.5h2M274 178.5h4M281 178.5h1M284 178.5h3M239 179.5h1M257 179.5h1M259 179.5h5M265 179.5h1M267 179.5h3M271 179.5h2M275 179.5h6M282 179.5h1M284 179.5h3M227 180.5h1M239 180.5h2M244 180.5h1M257 180.5h6M265 180.5h3M269 180.5h2M273 180.5h1M275 180.5h1M279 180.5h3M283 180.5h1M234 181.5h1M236 181.5h1M239 181.5h1M246 181.5h3M251 181.5h2M254 181.5h1M258 181.5h2M264 181.5h3M268 181.5h7M276 181.5h4M238 182.5h1M243 182.5h2M246 182.5h1M251 182.5h1M255 182.5h1M258 182.5h1M261 182.5h1M265 182.5h11M278 182.5h2M238 183.5h1M240 183.5h1M242 183.5h1M248 183.5h6M256 183.5h2M259 183.5h4M264 183.5h2M267 183.5h1M269 183.5h6M276 183.5h1M279 183.5h1M240 184.5h2M243 184.5h1M246 184.5h2M249 184.5h3M254 184.5h1M256 184.5h2M259 184.5h2M262 184.5h1M264 184.5h1M266 184.5h5M272 184.5h2M275 184.5h1M280 184.5h1M283 184.5h1M229 185.5h1M231 185.5h1M234 185.5h2M240 185.5h1M242 185.5h2M245 185.5h1M247 185.5h2M250 185.5h6M257 185.5h4M263 185.5h3M267 185.5h1M269 185.5h5M276 185.5h1M279 185.5h1M282 185.5h1M226 186.5h3M233 186.5h1M236 186.5h2M241 186.5h1M244 186.5h5M251 186.5h1M253 186.5h4M258 186.5h7M266 186.5h3M272 186.5h1M275 186.5h1M277 186.5h2M228 187.5h1M232 187.5h1M236 187.5h2M239 187.5h1M242 187.5h2M245 187.5h2M248 187.5h2M251 187.5h5M257 187.5h8M266 187.5h2M269 187.5h1M273 187.5h1M276 187.5h1M226 188.5h1M229 188.5h1M233 188.5h1M237 188.5h2M241 188.5h3M245 188.5h5M251 188.5h12M264 188.5h7M272 188.5h3M278 188.5h1M227 189.5h2M234 189.5h2M238 189.5h1M242 189.5h6M249 189.5h3M254 189.5h2M257 189.5h1M259 189.5h2M262 189.5h4M270 189.5h1M272 189.5h2M227 190.5h1M232 190.5h3M236 190.5h5M242 190.5h4M247 190.5h5M253 190.5h1M255 190.5h8M264 190.5h2M267 190.5h5M273 190.5h1M229 191.5h3M233 191.5h2M237 191.5h18M257 191.5h2M260 191.5h4M265 191.5h4M273 191.5h2M278 191.5h1M281 191.5h1M226 192.5h1M229 192.5h5M235 192.5h3M239 192.5h2M242 192.5h9M252 192.5h8M262 192.5h4M267 192.5h1M269 192.5h1M271 192.5h1M273 192.5h1M277 192.5h1M227 193.5h1M229 193.5h2M232 193.5h5M240 193.5h22M263 193.5h3M267 193.5h5M228 194.5h2M232 194.5h29M262 194.5h14M286 194.5h1M226 195.5h8M235 195.5h1M237 195.5h14M252 195.5h2M255 195.5h3M259 195.5h1M261 195.5h3M265 195.5h2M271 195.5h1M273 195.5h2M227 196.5h1M229 196.5h8M238 196.5h22M261 196.5h2M264 196.5h2M269 196.5h2M226 197.5h2M229 197.5h17M247 197.5h4M252 197.5h3M256 197.5h3M260 197.5h4M273 197.5h1M226 198.5h1M228 198.5h1M231 198.5h23M255 198.5h1M260 198.5h7M271 198.5h1M226 199.5h1M228 199.5h5M234 199.5h12M247 199.5h1M252 199.5h5M258 199.5h2M263 199.5h1M265 199.5h2M276 199.5h1M226 200.5h5M232 200.5h1M234 200.5h19M254 200.5h2M258 200.5h2M263 200.5h1M227 201.5h3M231 201.5h4M236 201.5h11M248 201.5h1M250 201.5h2M253 201.5h3M258 201.5h5M226 202.5h2M229 202.5h11M241 202.5h5M247 202.5h7M255 202.5h2M259 202.5h4M269 202.5h1M273 202.5h1M226 203.5h5M232 203.5h2M235 203.5h17M253 203.5h1M265 203.5h1M226 204.5h3M230 204.5h5M236 204.5h14M252 204.5h1M259 204.5h2M263 204.5h1M226 205.5h1M228 205.5h2M232 205.5h1M234 205.5h13M248 205.5h4M254 205.5h1M258 205.5h1M263 205.5h1M227 206.5h5M233 206.5h5M239 206.5h9M249 206.5h1M251 206.5h1M253 206.5h2M279 206.5h1M226 207.5h3M230 207.5h1M232 207.5h4M237 207.5h8M249 207.5h2M252 207.5h1M255 207.5h1M271 207.5h1M226 208.5h1M229 208.5h3M233 208.5h5M239 208.5h2M242 208.5h1M244 208.5h1M248 208.5h1M251 208.5h1M253 208.5h2M227 209.5h2M230 209.5h2M233 209.5h12M253 209.5h1M272 209.5h1M226 210.5h1M229 210.5h2M232 210.5h4M237 210.5h4M243 210.5h2M247 210.5h1M252 210.5h1M230 211.5h5M236 211.5h1M238 211.5h1M241 211.5h1M243 211.5h1M246 211.5h1M250 211.5h1M256 211.5h1" stroke="#000" stroke-width="1" filter="url(#bl)"/>
<rect x="225" y="124.3" width="104.1" height="88.5" stroke="#1a1a1a" stroke-width="1.3" fill="none"/>
<path d="M263.4 124.3L263.4 212.8" stroke="#1a1a1a" stroke-width="1.3"/>
<path d="M225 157.7L329.1 157.7" stroke="#1a1a1a" stroke-width="1.3"/>
<path d="M225 212.8v2.6M225 212.8h-2.6M232.83 212.8v1.5M225 206.14h-1.5M237.42 212.8v1.5M225 202.24h-1.5M240.67 212.8v1.5M225 199.48h-1.5M243.19 212.8v1.5M225 197.34h-1.5M245.25 212.8v1.5M225 195.58h-1.5M246.99 212.8v1.5M225 194.1h-1.5M248.5 212.8v1.5M225 192.82h-1.5M249.83 212.8v1.5M225 191.69h-1.5M251.03 212.8v2.6M225 190.68h-2.6M258.86 212.8v1.5M225 184.01h-1.5M263.44 212.8v1.5M225 180.12h-1.5M266.69 212.8v1.5M225 177.35h-1.5M269.22 212.8v1.5M225 175.21h-1.5M271.28 212.8v1.5M225 173.46h-1.5M273.02 212.8v1.5M225 171.98h-1.5M274.53 212.8v1.5M225 170.69h-1.5M275.86 212.8v1.5M225 169.56h-1.5M277.05 212.8v2.6M225 168.55h-2.6M284.88 212.8v1.5M225 161.89h-1.5M289.47 212.8v1.5M225 157.99h-1.5M292.72 212.8v1.5M225 155.23h-1.5M295.24 212.8v1.5M225 153.09h-1.5M297.3 212.8v1.5M225 151.33h-1.5M299.04 212.8v1.5M225 149.85h-1.5M300.55 212.8v1.5M225 148.57h-1.5M301.88 212.8v1.5M225 147.44h-1.5M303.08 212.8v2.6M225 146.43h-2.6M310.91 212.8v1.5M225 139.76h-1.5M315.49 212.8v1.5M225 135.87h-1.5M318.74 212.8v1.5M225 133.1h-1.5M321.27 212.8v1.5M225 130.96h-1.5M323.33 212.8v1.5M225 129.21h-1.5M325.07 212.8v1.5M225 127.73h-1.5M326.58 212.8v1.5M225 126.44h-1.5M327.91 212.8v1.5M225 125.31h-1.5M329.1 212.8v2.6M225 124.3h-2.6" stroke="#1a1a1a" stroke-width="1"/>
<text x="220.4" y="224.9" font-size="7.4" stroke="#000" stroke-width="0.15">10<tspan dy="-3.3" font-size="6.8">0</tspan></text>
<text x="245.98" y="224.9" font-size="7.4" stroke="#000" stroke-width="0.15">10<tspan dy="-3.3" font-size="6.8">1</tspan></text>
<text x="271.55" y="224.9" font-size="7.4" stroke="#000" stroke-width="0.15">10<tspan dy="-3.3" font-size="6.8">2</tspan></text>
<text x="297.12" y="224.9" font-size="7.4" stroke="#000" stroke-width="0.15">10<tspan dy="-3.3" font-size="6.8">3</tspan></text>
<text x="322.7" y="224.9" font-size="7.4" stroke="#000" stroke-width="0.15">10<tspan dy="-3.3" font-size="6.8">4</tspan></text>
<text transform="translate(218.8 218.3) rotate(-90)" font-size="7.6" textLength="6.4" lengthAdjust="spacingAndGlyphs" stroke="#000" stroke-width="0.15">10</text>
<text transform="translate(215 211.6) rotate(-90)" font-size="6.8" stroke="#000" stroke-width="0.15">0</text>
<text transform="translate(218.8 196.18) rotate(-90)" font-size="7.6" textLength="6.4" lengthAdjust="spacingAndGlyphs" stroke="#000" stroke-width="0.15">10</text>
<text transform="translate(215 189.48) rotate(-90)" font-size="6.8" stroke="#000" stroke-width="0.15">1</text>
<text transform="translate(218.8 174.05) rotate(-90)" font-size="7.6" textLength="6.4" lengthAdjust="spacingAndGlyphs" stroke="#000" stroke-width="0.15">10</text>
<text transform="translate(215 167.35) rotate(-90)" font-size="6.8" stroke="#000" stroke-width="0.15">2</text>
<text transform="translate(218.8 151.93) rotate(-90)" font-size="7.6" textLength="6.4" lengthAdjust="spacingAndGlyphs" stroke="#000" stroke-width="0.15">10</text>
<text transform="translate(215 145.23) rotate(-90)" font-size="6.8" stroke="#000" stroke-width="0.15">3</text>
<text transform="translate(218.8 129.8) rotate(-90)" font-size="7.6" textLength="6.4" lengthAdjust="spacingAndGlyphs" stroke="#000" stroke-width="0.15">10</text>
<text x="239.2" y="145.5" font-size="12.5" font-weight="bold" text-anchor="middle">0</text>
<text x="315.7" y="145.5" font-size="12.5" font-weight="bold" text-anchor="middle">18</text>
<text x="239.2" y="174" font-size="12.5" font-weight="bold" text-anchor="middle">43</text>
<text x="315.7" y="174" font-size="12.5" font-weight="bold" text-anchor="middle">39</text>
<path d="M419 125.5h1M425 125.5h1M414 126.5h1M430 126.5h1M427 127.5h1M436 127.5h1M409 129.5h1M416 129.5h1M397 130.5h1M419 130.5h1M414 131.5h2M426 131.5h1M438 131.5h1M405 132.5h1M417 132.5h1M422 132.5h1M435 132.5h1M400 133.5h1M409 133.5h1M411 133.5h1M413 133.5h1M416 133.5h2M425 133.5h1M433 133.5h1M399 134.5h1M401 134.5h2M411 134.5h2M414 134.5h1M417 134.5h1M424 134.5h2M428 134.5h1M434 134.5h1M396 135.5h1M405 135.5h1M413 135.5h1M416 135.5h1M421 135.5h1M402 136.5h1M404 136.5h1M415 136.5h1M418 136.5h2M421 136.5h3M430 136.5h1M395 137.5h1M398 137.5h1M401 137.5h1M403 137.5h1M407 137.5h1M409 137.5h3M413 137.5h2M416 137.5h6M423 137.5h2M427 137.5h1M444 137.5h1M408 138.5h12M421 138.5h4M426 138.5h1M430 138.5h2M393 139.5h1M395 139.5h2M399 139.5h1M401 139.5h1M404 139.5h1M406 139.5h9M417 139.5h5M424 139.5h1M426 139.5h3M395 140.5h2M401 140.5h1M406 140.5h2M409 140.5h15M425 140.5h2M428 140.5h2M431 140.5h1M401 141.5h1M403 141.5h16M420 141.5h1M422 141.5h4M399 142.5h1M401 142.5h7M409 142.5h8M419 142.5h3M424 142.5h2M427 142.5h1M398 143.5h2M401 143.5h2M404 143.5h4M410 143.5h7M418 143.5h3M425 143.5h2M428 143.5h1M398 144.5h1M401 144.5h10M412 144.5h9M424 144.5h1M426 144.5h1M393 145.5h1M396 145.5h1M398 145.5h1M400 145.5h22M424 145.5h1M395 146.5h3M400 146.5h12M413 146.5h2M416 146.5h6M424 146.5h1M432 146.5h1M382 147.5h1M393 147.5h2M397 147.5h1M399 147.5h11M411 147.5h5M417 147.5h3M421 147.5h3M425 147.5h1M430 147.5h1M391 148.5h2M397 148.5h1M400 148.5h4M405 148.5h10M416 148.5h4M383 149.5h1M387 149.5h1M389 149.5h1M391 149.5h2M396 149.5h1M398 149.5h20M420 149.5h1M425 149.5h1M429 149.5h1M387 150.5h1M392 150.5h1M394 150.5h1M396 150.5h17M415 150.5h1M417 150.5h1M419 150.5h1M421 150.5h1M423 150.5h1M435 150.5h1M388 151.5h1M392 151.5h1M395 151.5h12M408 151.5h8M417 151.5h1M419 151.5h1M424 151.5h1M388 152.5h3M392 152.5h23M416 152.5h4M421 152.5h1M378 153.5h1M390 153.5h1M392 153.5h2M395 153.5h16M413 153.5h3M417 153.5h1M386 154.5h1M388 154.5h3M393 154.5h19M414 154.5h4M420 154.5h1M378 155.5h1M388 155.5h2M391 155.5h3M395 155.5h17M414 155.5h1M417 155.5h1M420 155.5h1M422 155.5h1M365 156.5h1M375 156.5h1M389 156.5h3M393 156.5h22M416 156.5h1M418 156.5h1M426 156.5h1M379 157.5h1M382 157.5h1M387 157.5h1M389 157.5h2M392 157.5h22M415 157.5h2M419 157.5h1M428 157.5h2M434 157.5h1M389 158.5h17M408 158.5h3M412 158.5h4M421 158.5h2M382 159.5h1M384 159.5h2M387 159.5h19M407 159.5h6M415 159.5h1M420 159.5h1M423 159.5h1M376 160.5h1M388 160.5h3M392 160.5h18M411 160.5h1M413 160.5h5M379 161.5h1M383 161.5h2M388 161.5h22M411 161.5h3M417 161.5h1M376 162.5h1M381 162.5h2M385 162.5h4M390 162.5h1M392 162.5h14M407 162.5h1M409 162.5h3M413 162.5h1M415 162.5h1M421 162.5h1M375 163.5h1M383 163.5h1M387 163.5h18M406 163.5h1M408 163.5h1M410 163.5h2M413 163.5h1M421 163.5h2M431 163.5h1M379 164.5h2M383 164.5h1M385 164.5h21M407 164.5h2M410 164.5h1M416 164.5h1M420 164.5h1M384 165.5h2M387 165.5h26M415 165.5h1M418 165.5h1M420 165.5h2M382 166.5h1M384 166.5h1M387 166.5h19M407 166.5h1M410 166.5h1M412 166.5h2M427 166.5h1M374 167.5h1M378 167.5h1M380 167.5h1M382 167.5h1M384 167.5h4M389 167.5h14M404 167.5h2M407 167.5h3M411 167.5h1M413 167.5h1M415 167.5h2M418 167.5h1M378 168.5h1M381 168.5h2M384 168.5h7M392 168.5h17M410 168.5h2M413 168.5h3M417 168.5h1M376 169.5h2M379 169.5h2M384 169.5h6M391 169.5h14M409 169.5h3M413 169.5h1M415 169.5h1M425 169.5h1M369 170.5h1M380 170.5h8M389 170.5h15M406 170.5h1M408 170.5h7M369 171.5h1M373 171.5h3M380 171.5h1M382 171.5h18M401 171.5h1M403 171.5h1M405 171.5h3M409 171.5h3M413 171.5h1M418 171.5h1M370 172.5h1M379 172.5h5M385 172.5h1M387 172.5h6M394 172.5h2M397 172.5h4M402 172.5h1M406 172.5h1M408 172.5h2M412 172.5h1M414 172.5h1M374 173.5h1M378 173.5h4M383 173.5h18M405 173.5h7M372 174.5h1M378 174.5h1M380 174.5h7M388 174.5h3M392 174.5h3M396 174.5h3M401 174.5h2M404 174.5h3M409 174.5h2M417 174.5h1M373 175.5h1M376 175.5h1M378 175.5h3M383 175.5h10M395 175.5h4M402 175.5h1M404 175.5h1M407 175.5h1M412 175.5h2M365 176.5h2M373 176.5h1M376 176.5h1M380 176.5h10M392 176.5h4M397 176.5h2M401 176.5h1M404 176.5h1M408 176.5h1M379 177.5h10M390 177.5h2M395 177.5h1M397 177.5h3M401 177.5h6M416 177.5h1M454 177.5h1M373 178.5h1M375 178.5h1M377 178.5h3M383 178.5h8M398 178.5h1M401 178.5h3M372 179.5h3M376 179.5h2M379 179.5h1M381 179.5h6M388 179.5h1M390 179.5h1M395 179.5h3M399 179.5h1M403 179.5h1M361 180.5h1M368 180.5h1M370 180.5h1M379 180.5h1M381 180.5h8M392 180.5h2M397 180.5h1M400 180.5h1M404 180.5h2M407 180.5h1M409 180.5h1M353 181.5h1M370 181.5h1M378 181.5h1M382 181.5h1M385 181.5h3M390 181.5h2M399 181.5h1M403 181.5h1M355 182.5h1M378 182.5h7M387 182.5h1M389 182.5h1M392 182.5h4M397 182.5h1M399 182.5h3M372 183.5h2M378 183.5h1M383 183.5h1M385 183.5h2M389 183.5h1M391 183.5h1M395 183.5h1M397 183.5h1M447 183.5h1M369 184.5h3M374 184.5h2M378 184.5h2M383 184.5h4M388 184.5h1M391 184.5h1M394 184.5h1M401 184.5h1M403 184.5h1M410 184.5h1M362 185.5h1M368 185.5h2M371 185.5h1M373 185.5h1M375 185.5h1M377 185.5h3M386 185.5h1M389 185.5h2M400 185.5h1M362 186.5h1M366 186.5h1M368 186.5h1M372 186.5h1M374 186.5h4M381 186.5h1M384 186.5h2M387 186.5h2M394 186.5h1M402 186.5h1M366 187.5h1M372 187.5h1M374 187.5h1M376 187.5h3M381 187.5h1M386 187.5h1M391 187.5h1M397 187.5h1M360 188.5h1M367 188.5h1M371 188.5h4M383 188.5h1M385 188.5h4M393 188.5h1M403 188.5h1M353 189.5h1M356 189.5h1M363 189.5h2M369 189.5h2M372 189.5h2M377 189.5h1M380 189.5h1M389 189.5h1M396 189.5h1M360 190.5h1M367 190.5h3M373 190.5h1M380 190.5h1M390 190.5h1M366 191.5h2M370 191.5h1M376 191.5h1M379 191.5h1M381 191.5h1M384 191.5h1M390 191.5h1M399 191.5h1M353 192.5h1M358 192.5h1M360 192.5h2M363 192.5h3M368 192.5h1M370 192.5h2M373 192.5h1M375 192.5h2M378 192.5h4M384 192.5h1M356 193.5h1M358 193.5h1M360 193.5h1M362 193.5h2M366 193.5h4M373 193.5h1M375 193.5h2M381 193.5h1M385 193.5h1M356 194.5h1M359 194.5h2M368 194.5h5M374 194.5h3M378 194.5h1M381 194.5h1M353 195.5h1M358 195.5h1M368 195.5h1M371 195.5h1M373 195.5h1M375 195.5h1M378 195.5h1M384 195.5h1M393 195.5h1M355 196.5h1M357 196.5h1M359 196.5h1M361 196.5h1M363 196.5h2M366 196.5h1M369 196.5h3M375 196.5h1M377 196.5h1M355 197.5h2M360 197.5h3M365 197.5h2M368 197.5h3M372 197.5h1M374 197.5h3M385 197.5h2M390 197.5h1M353 198.5h1M358 198.5h1M361 198.5h1M364 198.5h1M366 198.5h1M369 198.5h1M373 198.5h2M377 198.5h1M384 198.5h1M399 198.5h1M356 199.5h2M362 199.5h1M364 199.5h1M370 199.5h1M374 199.5h1M376 199.5h1M380 199.5h1M355 200.5h1M357 200.5h1M362 200.5h1M365 200.5h1M367 200.5h1M372 200.5h2M379 200.5h1M396 200.5h1M353 201.5h2M356 201.5h1M362 201.5h1M365 201.5h1M368 201.5h1M370 201.5h2M375 201.5h1M353 202.5h2M357 202.5h1M362 202.5h1M378 202.5h1M382 202.5h1M353 203.5h2M363 203.5h1M366 203.5h1M368 203.5h1M373 203.5h1M375 203.5h1M380 203.5h1M382 203.5h1M353 204.5h1M356 204.5h1M359 204.5h1M363 204.5h1M367 204.5h1M354 205.5h1M359 205.5h3M364 205.5h2M367 205.5h1M371 205.5h1M374 205.5h1M378 205.5h1M360 206.5h1M365 206.5h1M368 206.5h1M371 206.5h1M367 207.5h1M353 208.5h1M355 208.5h1M362 208.5h1M354 209.5h2M358 209.5h1M366 209.5h2M369 209.5h1M380 209.5h1M455 209.5h1M360 210.5h1M371 210.5h1M355 211.5h1" stroke="#000" stroke-width="1" filter="url(#bl)"/>
<rect x="351.5" y="124" width="108.9" height="88.6" stroke="#1a1a1a" stroke-width="1.3" fill="none"/>
<path d="M392 124L392 212.6" stroke="#1a1a1a" stroke-width="1.3"/>
<path d="M351.5 157.3L460.4 157.3" stroke="#1a1a1a" stroke-width="1.3"/>
<path d="M351.5 212.6v2.6M351.5 212.6h-2.6M359.7 212.6v1.5M351.5 205.93h-1.5M364.49 212.6v1.5M351.5 202.03h-1.5M367.89 212.6v1.5M351.5 199.26h-1.5M370.53 212.6v1.5M351.5 197.12h-1.5M372.69 212.6v1.5M351.5 195.36h-1.5M374.51 212.6v1.5M351.5 193.88h-1.5M376.09 212.6v1.5M351.5 192.6h-1.5M377.48 212.6v1.5M351.5 191.46h-1.5M378.73 212.6v2.6M351.5 190.45h-2.6M386.92 212.6v1.5M351.5 183.78h-1.5M391.71 212.6v1.5M351.5 179.88h-1.5M395.12 212.6v1.5M351.5 177.11h-1.5M397.75 212.6v1.5M351.5 174.97h-1.5M399.91 212.6v1.5M351.5 173.21h-1.5M401.73 212.6v1.5M351.5 171.73h-1.5M403.31 212.6v1.5M351.5 170.45h-1.5M404.7 212.6v1.5M351.5 169.31h-1.5M405.95 212.6v2.6M351.5 168.3h-2.6M414.15 212.6v1.5M351.5 161.63h-1.5M418.94 212.6v1.5M351.5 157.73h-1.5M422.34 212.6v1.5M351.5 154.96h-1.5M424.98 212.6v1.5M351.5 152.82h-1.5M427.14 212.6v1.5M351.5 151.06h-1.5M428.96 212.6v1.5M351.5 149.58h-1.5M430.54 212.6v1.5M351.5 148.3h-1.5M431.93 212.6v1.5M351.5 147.16h-1.5M433.17 212.6v2.6M351.5 146.15h-2.6M441.37 212.6v1.5M351.5 139.48h-1.5M446.16 212.6v1.5M351.5 135.58h-1.5M449.57 212.6v1.5M351.5 132.81h-1.5M452.2 212.6v1.5M351.5 130.67h-1.5M454.36 212.6v1.5M351.5 128.91h-1.5M456.18 212.6v1.5M351.5 127.43h-1.5M457.76 212.6v1.5M351.5 126.15h-1.5M459.15 212.6v1.5M351.5 125.01h-1.5M460.4 212.6v2.6M351.5 124h-2.6" stroke="#1a1a1a" stroke-width="1"/>
<text x="346.9" y="224.7" font-size="7.4" stroke="#000" stroke-width="0.15">10<tspan dy="-3.3" font-size="6.8">0</tspan></text>
<text x="373.68" y="224.7" font-size="7.4" stroke="#000" stroke-width="0.15">10<tspan dy="-3.3" font-size="6.8">1</tspan></text>
<text x="400.45" y="224.7" font-size="7.4" stroke="#000" stroke-width="0.15">10<tspan dy="-3.3" font-size="6.8">2</tspan></text>
<text x="427.22" y="224.7" font-size="7.4" stroke="#000" stroke-width="0.15">10<tspan dy="-3.3" font-size="6.8">3</tspan></text>
<text x="454" y="224.7" font-size="7.4" stroke="#000" stroke-width="0.15">10<tspan dy="-3.3" font-size="6.8">4</tspan></text>
<text transform="translate(345.3 218.1) rotate(-90)" font-size="7.6" textLength="6.4" lengthAdjust="spacingAndGlyphs" stroke="#000" stroke-width="0.15">10</text>
<text transform="translate(341.5 211.4) rotate(-90)" font-size="6.8" stroke="#000" stroke-width="0.15">0</text>
<text transform="translate(345.3 195.95) rotate(-90)" font-size="7.6" textLength="6.4" lengthAdjust="spacingAndGlyphs" stroke="#000" stroke-width="0.15">10</text>
<text transform="translate(341.5 189.25) rotate(-90)" font-size="6.8" stroke="#000" stroke-width="0.15">1</text>
<text transform="translate(345.3 173.8) rotate(-90)" font-size="7.6" textLength="6.4" lengthAdjust="spacingAndGlyphs" stroke="#000" stroke-width="0.15">10</text>
<text transform="translate(341.5 167.1) rotate(-90)" font-size="6.8" stroke="#000" stroke-width="0.15">2</text>
<text transform="translate(345.3 151.65) rotate(-90)" font-size="7.6" textLength="6.4" lengthAdjust="spacingAndGlyphs" stroke="#000" stroke-width="0.15">10</text>
<text transform="translate(341.5 144.95) rotate(-90)" font-size="6.8" stroke="#000" stroke-width="0.15">3</text>
<text transform="translate(345.3 129.5) rotate(-90)" font-size="7.6" textLength="6.4" lengthAdjust="spacingAndGlyphs" stroke="#000" stroke-width="0.15">10</text>
<text x="365" y="145.5" font-size="12.5" font-weight="bold" text-anchor="middle">1</text>
<text x="447" y="145.5" font-size="12.5" font-weight="bold" text-anchor="middle">24</text>
<text x="364" y="174" font-size="12.5" font-weight="bold" text-anchor="middle">27</text>
<text x="447" y="174" font-size="12.5" font-weight="bold" text-anchor="middle">48</text>
<text x="148.3" y="9.4" font-size="12.6" font-weight="bold" text-anchor="middle">24h</text>
<text x="275.5" y="9.4" font-size="12.6" font-weight="bold" text-anchor="middle">48h</text>
<text x="405.4" y="9.4" font-size="12.6" font-weight="bold" text-anchor="middle">72h</text>
<text x="54.8" y="48.8" font-size="12.5" font-weight="bold" textLength="26.2" lengthAdjust="spacingAndGlyphs">CTR</text>
<text x="55.6" y="160.2" font-size="12.4" font-weight="bold" textLength="28.8" lengthAdjust="spacingAndGlyphs">IL-21</text>
<text transform="rotate(-90 78.8 75.4)" x="78.8" y="75.4" font-size="10.6" font-weight="bold" text-anchor="middle">PI</text>
<text transform="rotate(-90 78.8 184.5)" x="78.8" y="184.5" font-size="10.6" font-weight="bold" text-anchor="middle">PI</text>
<text x="151" y="233" font-size="10" font-weight="bold" text-anchor="middle" textLength="55.9" lengthAdjust="spacingAndGlyphs">ANNEXIN-V</text>
<text x="277" y="233" font-size="10" font-weight="bold" text-anchor="middle" textLength="55.9" lengthAdjust="spacingAndGlyphs">ANNEXIN-V</text>
<text x="406" y="233" font-size="10" font-weight="bold" text-anchor="middle" textLength="55.9" lengthAdjust="spacingAndGlyphs">ANNEXIN-V</text>
<text x="96.5" y="284.8" font-size="17" font-weight="bold" text-anchor="middle">24h</text>
<text x="267" y="284.8" font-size="17" font-weight="bold" text-anchor="middle">48h</text>
<text x="437.1" y="284.8" font-size="17" font-weight="bold" text-anchor="middle">72h</text>
<text transform="rotate(-90 8.3 347.3)" x="8.3" y="347.3" font-size="10.2" font-weight="bold" text-anchor="middle" textLength="72" lengthAdjust="spacingAndGlyphs">CELL COUNTS</text>
<rect x="32.3" y="294.6" width="139.9" height="116" stroke="#111" stroke-width="1.4" fill="none"/>
<path d="M32.3 410.6v6M42.83 410.6v3.2M48.99 410.6v3.2M53.36 410.6v3.2M56.75 410.6v3.2M59.52 410.6v3.2M61.86 410.6v3.2M63.89 410.6v3.2M65.67 410.6v3.2M67.27 410.6v6M77.8 410.6v3.2M83.96 410.6v3.2M88.33 410.6v3.2M91.72 410.6v3.2M94.49 410.6v3.2M96.83 410.6v3.2M98.86 410.6v3.2M100.65 410.6v3.2M102.25 410.6v6M112.78 410.6v3.2M118.94 410.6v3.2M123.31 410.6v3.2M126.7 410.6v3.2M129.47 410.6v3.2M131.81 410.6v3.2M133.84 410.6v3.2M135.62 410.6v3.2M137.22 410.6v6M147.75 410.6v3.2M153.91 410.6v3.2M158.28 410.6v3.2M161.67 410.6v3.2M164.44 410.6v3.2M166.78 410.6v3.2M168.81 410.6v3.2M170.6 410.6v3.2M172.2 410.6v6M32.3 410.6h-5.6M32.3 405.96h-3M32.3 401.32h-3M32.3 396.68h-3M32.3 392.04h-3M32.3 387.4h-5.6M32.3 382.76h-3M32.3 378.12h-3M32.3 373.48h-3M32.3 368.84h-3M32.3 364.2h-5.6M32.3 359.56h-3M32.3 354.92h-3M32.3 350.28h-3M32.3 345.64h-3M32.3 341h-5.6M32.3 336.36h-3M32.3 331.72h-3M32.3 327.08h-3M32.3 322.44h-3M32.3 317.8h-5.6M32.3 313.16h-3M32.3 308.52h-3M32.3 303.88h-3M32.3 299.24h-3M32.3 294.6h-5.6" stroke="#111" stroke-width="1"/>
<text x="24.4" y="429.2" font-size="10.6">10<tspan dy="-5.7" font-size="10">0</tspan></text>
<text x="59.07" y="429.2" font-size="10.6">10<tspan dy="-5.7" font-size="10">1</tspan></text>
<text x="93.75" y="429.2" font-size="10.6">10<tspan dy="-5.7" font-size="10">2</tspan></text>
<text x="128.42" y="429.2" font-size="10.6">10<tspan dy="-5.7" font-size="10">3</tspan></text>
<text x="163.1" y="429.2" font-size="10.6">10<tspan dy="-5.7" font-size="10">4</tspan></text>
<text transform="translate(23 410.9) rotate(-90)" font-size="11" text-anchor="middle" fill="#111" textLength="5.75" lengthAdjust="spacingAndGlyphs">0</text>
<text transform="translate(23 387.7) rotate(-90)" font-size="11" text-anchor="middle" fill="#111" textLength="11.5" lengthAdjust="spacingAndGlyphs">40</text>
<text transform="translate(23 364.5) rotate(-90)" font-size="11" text-anchor="middle" fill="#111" textLength="11.5" lengthAdjust="spacingAndGlyphs">80</text>
<text transform="translate(23 341.3) rotate(-90)" font-size="11" text-anchor="middle" fill="#111" textLength="17.25" lengthAdjust="spacingAndGlyphs">120</text>
<text transform="translate(23 318.1) rotate(-90)" font-size="11" text-anchor="middle" fill="#111" textLength="17.25" lengthAdjust="spacingAndGlyphs">160</text>
<text transform="translate(23 294.9) rotate(-90)" font-size="11" text-anchor="middle" fill="#111" textLength="17.25" lengthAdjust="spacingAndGlyphs">200</text>
<text x="103.75" y="442.9" font-size="13.2" font-weight="bold" text-anchor="middle" textLength="41.5" lengthAdjust="spacingAndGlyphs">DiOC6</text>
<rect x="202.5" y="294.6" width="136.7" height="116" stroke="#111" stroke-width="1.4" fill="none"/>
<path d="M202.5 410.6v6M212.79 410.6v3.2M218.81 410.6v3.2M223.08 410.6v3.2M226.39 410.6v3.2M229.09 410.6v3.2M231.38 410.6v3.2M233.36 410.6v3.2M235.11 410.6v3.2M236.68 410.6v6M246.96 410.6v3.2M252.98 410.6v3.2M257.25 410.6v3.2M260.56 410.6v3.2M263.27 410.6v3.2M265.56 410.6v3.2M267.54 410.6v3.2M269.29 410.6v3.2M270.85 410.6v6M281.14 410.6v3.2M287.16 410.6v3.2M291.43 410.6v3.2M294.74 410.6v3.2M297.44 410.6v3.2M299.73 410.6v3.2M301.71 410.6v3.2M303.46 410.6v3.2M305.02 410.6v6M315.31 410.6v3.2M321.33 410.6v3.2M325.6 410.6v3.2M328.91 410.6v3.2M331.62 410.6v3.2M333.91 410.6v3.2M335.89 410.6v3.2M337.64 410.6v3.2M339.2 410.6v6M202.5 410.6h-5.6M202.5 406.73h-3M202.5 402.87h-3M202.5 399h-3M202.5 395.13h-3M202.5 391.27h-5.6M202.5 387.4h-3M202.5 383.53h-3M202.5 379.67h-3M202.5 375.8h-3M202.5 371.93h-5.6M202.5 368.07h-3M202.5 364.2h-3M202.5 360.33h-3M202.5 356.47h-3M202.5 352.6h-5.6M202.5 348.73h-3M202.5 344.87h-3M202.5 341h-3M202.5 337.13h-3M202.5 333.27h-5.6M202.5 329.4h-3M202.5 325.53h-3M202.5 321.67h-3M202.5 317.8h-3M202.5 313.93h-5.6M202.5 310.07h-3M202.5 306.2h-3M202.5 302.33h-3M202.5 298.47h-3M202.5 294.6h-5.6" stroke="#111" stroke-width="1"/>
<text x="194.6" y="429.2" font-size="10.6">10<tspan dy="-5.7" font-size="10">0</tspan></text>
<text x="228.47" y="429.2" font-size="10.6">10<tspan dy="-5.7" font-size="10">1</tspan></text>
<text x="262.35" y="429.2" font-size="10.6">10<tspan dy="-5.7" font-size="10">2</tspan></text>
<text x="296.23" y="429.2" font-size="10.6">10<tspan dy="-5.7" font-size="10">3</tspan></text>
<text x="330.1" y="429.2" font-size="10.6">10<tspan dy="-5.7" font-size="10">4</tspan></text>
<text transform="translate(193.2 410.9) rotate(-90)" font-size="11" text-anchor="middle" fill="#111" textLength="5.75" lengthAdjust="spacingAndGlyphs">0</text>
<text transform="translate(193.2 391.57) rotate(-90)" font-size="11" text-anchor="middle" fill="#111" textLength="11.5" lengthAdjust="spacingAndGlyphs">20</text>
<text transform="translate(193.2 372.23) rotate(-90)" font-size="11" text-anchor="middle" fill="#111" textLength="11.5" lengthAdjust="spacingAndGlyphs">40</text>
<text transform="translate(193.2 352.9) rotate(-90)" font-size="11" text-anchor="middle" fill="#111" textLength="11.5" lengthAdjust="spacingAndGlyphs">60</text>
<text transform="translate(193.2 333.57) rotate(-90)" font-size="11" text-anchor="middle" fill="#111" textLength="11.5" lengthAdjust="spacingAndGlyphs">80</text>
<text transform="translate(193.2 314.23) rotate(-90)" font-size="11" text-anchor="middle" fill="#111" textLength="17.25" lengthAdjust="spacingAndGlyphs">100</text>
<text transform="translate(193.2 294.9) rotate(-90)" font-size="11" text-anchor="middle" fill="#111" textLength="17.25" lengthAdjust="spacingAndGlyphs">120</text>
<text x="272.35" y="442.9" font-size="13.2" font-weight="bold" text-anchor="middle" textLength="41.5" lengthAdjust="spacingAndGlyphs">DiOC6</text>
<rect x="371.2" y="294.6" width="141.7" height="115.8" stroke="#111" stroke-width="1.4" fill="none"/>
<path d="M371.2 410.4v6M381.86 410.4v3.2M388.1 410.4v3.2M392.53 410.4v3.2M395.96 410.4v3.2M398.77 410.4v3.2M401.14 410.4v3.2M403.19 410.4v3.2M405 410.4v3.2M406.62 410.4v6M417.29 410.4v3.2M423.53 410.4v3.2M427.95 410.4v3.2M431.39 410.4v3.2M434.19 410.4v3.2M436.56 410.4v3.2M438.62 410.4v3.2M440.43 410.4v3.2M442.05 410.4v6M452.71 410.4v3.2M458.95 410.4v3.2M463.38 410.4v3.2M466.81 410.4v3.2M469.62 410.4v3.2M471.99 410.4v3.2M474.04 410.4v3.2M475.85 410.4v3.2M477.47 410.4v6M488.14 410.4v3.2M494.38 410.4v3.2M498.8 410.4v3.2M502.24 410.4v3.2M505.04 410.4v3.2M507.41 410.4v3.2M509.47 410.4v3.2M511.28 410.4v3.2M512.9 410.4v6M371.2 410.4h-5.6M371.2 405.77h-3M371.2 401.14h-3M371.2 396.5h-3M371.2 391.87h-3M371.2 387.24h-5.6M371.2 382.61h-3M371.2 377.98h-3M371.2 373.34h-3M371.2 368.71h-3M371.2 364.08h-5.6M371.2 359.45h-3M371.2 354.82h-3M371.2 350.18h-3M371.2 345.55h-3M371.2 340.92h-5.6M371.2 336.29h-3M371.2 331.66h-3M371.2 327.02h-3M371.2 322.39h-3M371.2 317.76h-5.6M371.2 313.13h-3M371.2 308.5h-3M371.2 303.86h-3M371.2 299.23h-3M371.2 294.6h-5.6" stroke="#111" stroke-width="1"/>
<text x="363.3" y="429.2" font-size="10.6">10<tspan dy="-5.7" font-size="10">0</tspan></text>
<text x="398.43" y="429.2" font-size="10.6">10<tspan dy="-5.7" font-size="10">1</tspan></text>
<text x="433.55" y="429.2" font-size="10.6">10<tspan dy="-5.7" font-size="10">2</tspan></text>
<text x="468.68" y="429.2" font-size="10.6">10<tspan dy="-5.7" font-size="10">3</tspan></text>
<text x="503.8" y="429.2" font-size="10.6">10<tspan dy="-5.7" font-size="10">4</tspan></text>
<text transform="translate(361.9 410.7) rotate(-90)" font-size="11" text-anchor="middle" fill="#111" textLength="5.75" lengthAdjust="spacingAndGlyphs">0</text>
<text transform="translate(361.9 387.54) rotate(-90)" font-size="11" text-anchor="middle" fill="#111" textLength="11.5" lengthAdjust="spacingAndGlyphs">40</text>
<text transform="translate(361.9 364.38) rotate(-90)" font-size="11" text-anchor="middle" fill="#111" textLength="11.5" lengthAdjust="spacingAndGlyphs">80</text>
<text transform="translate(361.9 341.22) rotate(-90)" font-size="11" text-anchor="middle" fill="#111" textLength="17.25" lengthAdjust="spacingAndGlyphs">120</text>
<text transform="translate(361.9 318.06) rotate(-90)" font-size="11" text-anchor="middle" fill="#111" textLength="17.25" lengthAdjust="spacingAndGlyphs">160</text>
<text transform="translate(361.9 294.9) rotate(-90)" font-size="11" text-anchor="middle" fill="#111" textLength="17.25" lengthAdjust="spacingAndGlyphs">200</text>
<text x="443.55" y="442.9" font-size="13.2" font-weight="bold" text-anchor="middle" textLength="41.5" lengthAdjust="spacingAndGlyphs">DiOC6</text>
<path d="M33 409.64L34.1 409.68L35.2 409.61L36.3 409.42L37.4 409.65L38.5 409.59L39.6 409.46L40.7 409.58L41.8 409.55L42.9 409.53L44 409.48L45.1 409.53L46.2 409.36L47.3 409.42L48.4 409.37L49.5 409.49L50.6 409.41L51.7 409.35L52.8 409.28L53.9 409.33L55 409.36L56.1 409.31L57.2 409.51L58.3 409.46L59.4 408.93L60.5 409.02L61.6 409.24L62.7 409.18L63.8 409.26L64.9 409.23L66 409.51L67.1 408.98L68.2 409.08L69.3 409.44L70.4 409.2L71.5 409.18L72.6 408.96L73.7 408.74L74.8 409.03L75.9 408.91L77 408.52L78.1 408.48L79.2 408.48L80.3 408.17L81.4 408.38L82.5 408.42L83.6 408.41L84.7 408.28L85.8 408.54L86.9 408.61L88 408.48L89.1 408.2L90.2 408.57L91.3 408.28L92.4 408.61L93.5 408.14L94.6 408.62L95.7 408.33L96.8 407.92L97.9 408.06L99 408.06L100.1 408.02L101.2 407.55L102.3 407.4L103.4 407.71L104.5 407.39L105.6 407.52L106.7 407.6L107.8 406.62L108.9 407.21L110 407.48L111.1 406.13L112.2 405.09L113.3 405.09L114.4 403.34L115.5 402.53L116.6 400.1L117.7 397.73L118.8 398.41L119.9 397.01L121 397.13L122.1 394.86L123.2 390.98L124.3 390L125.4 391.05L126.5 389.13L127.6 385.77L128.7 385.3L129.8 384.78L130.9 383.41L132 382.47L133.1 380.03L134.2 376.28L135.3 372.69L136.4 370.82L137.5 363.41L138.6 364.22L139.7 368.84L140.8 371.19L141.9 376.12L143 377.15L144.1 381.6L145.2 382.7L146.3 385.75L147.4 388.48L148.5 389.25L149.6 389.26L150.7 389.96L151.8 395.68L152.9 394.72L154 395.35L155.1 397.81L156.2 398.76L157.3 401.16L158.4 400.97L159.5 401.68L160.6 401.72L161.7 403.41L162.8 402.9L163.9 404.07L165 404.48L166.1 401.45L167.2 397.17L168.3 395.2L169.4 393.31L170.5 399.4L171.6 406.29L172 408" stroke="#000" stroke-width="0.9" fill="none" stroke-linejoin="round"/>
<path d="M33 409.37L34.1 409.38L35.2 409.47L36.3 409.41L37.4 409.28L38.5 409.36L39.6 409.32L40.7 409.35L41.8 409.25L42.9 409.34L44 409.33L45.1 409.4L46.2 409.32L47.3 409.32L48.4 409.2L49.5 409.4L50.6 409.16L51.7 409.32L52.8 409.23L53.9 409.2L55 409.2L56.1 409.19L57.2 409.24L58.3 409.21L59.4 409.29L60.5 409.08L61.6 409.16L62.7 409.08L63.8 409.15L64.9 408.94L66 409.03L67.1 409.04L68.2 408.85L69.3 408.75L70.4 408.42L71.5 408.23L72.6 407.68L73.7 406.6L74.8 405.79L75.9 404.26L77 402.74L78.1 401.02L79.2 398.25L80.3 396.1L81.4 393.52L82.5 390.66L83.6 387.22L84.7 383.13L85.8 380.34L86.9 376.4L88 375.16L89.1 375.85L90.2 376.52L91.3 380.82L92.4 386.42L93.5 391.29L94.6 394.74L95.7 399.92L96.8 403.04L97.9 404.54L99 405.78L100.1 405.75L101.2 405.61L102.3 405.19L103.4 405.06L104.5 405.32L105.6 405.22L106.7 405.69L107.8 405.15L108.9 404.93L110 405.61L111.1 405.05L112.2 404.74L113.3 403.98L114.4 401.12L115.5 399.59L116.6 396.58L117.7 395.03L118.8 392.47L119.9 390.51L121 389.15L122.1 387.78L123.2 386.39L124.3 385.76L125.4 383.03L126.5 382.97L127.6 380.98L128.7 380.03L129.8 377L130.9 374.52L132 372.7L133.1 373.53L134.2 374.26L135.3 373.55L136.4 372.83L137.5 370.08L138.6 370.66L139.7 376.42L140.8 380.03L141.9 382.87L143 385.97L144.1 388.96L145.2 392.55L146.3 395.39L147.4 396.49L148.5 398.02L149.6 398.66L150.7 399.9L151.8 399.47L152.9 401.07L154 400.96L155.1 401.39L156.2 401.81L157.3 401.83L158.4 402.12L159.5 403.19L160.6 403.42L161.7 403.72L162.8 404.56L163.9 404.2L165 405.2L166.1 404.93L167.2 404.48L168.3 404.35L169.4 403.32L170.5 403.04L171.6 405.92L172 407" stroke="#000" stroke-width="2.5" fill="none" stroke-linejoin="round"/>
<path d="M203 409.82L204.1 409.74L205.2 409.74L206.3 409.54L207.4 409.92L208.5 409.85L209.6 409.7L210.7 409.79L211.8 409.73L212.9 409.64L214 409.78L215.1 409.63L216.2 409.62L217.3 409.56L218.4 409.68L219.5 409.61L220.6 409.66L221.7 409.53L222.8 409.59L223.9 409.47L225 409.65L226.1 409.56L227.2 409.57L228.3 409.57L229.4 409.39L230.5 409.57L231.6 409.68L232.7 409.15L233.8 409.07L234.9 409.04L236 409.33L237.1 409.17L238.2 409.27L239.3 409.16L240.4 408.88L241.5 408.47L242.6 407.91L243.7 407.81L244.8 406.65L245.9 405.89L247 405.15L248.1 405.21L249.2 402.15L250.3 400.89L251.4 401.03L252.5 402.23L253.6 400.67L254.7 402.03L255.8 397.97L256.9 400.9L258 400.3L259.1 396.48L260.2 396.54L261.3 395.94L262.4 391.82L263.5 390.21L264.6 391.02L265.7 387.72L266.8 386.89L267.9 386.94L269 389.49L270.1 389.28L271.2 391.89L272.3 394.66L273.4 398.55L274.5 398.27L275.6 399.38L276.7 399.52L277.8 403.42L278.9 402.92L280 403.54L281.1 400.99L282.2 398.98L283.3 399.26L284.4 397.22L285.5 394.37L286.6 393.54L287.7 395.79L288.8 392.76L289.9 391.65L291 389.25L292.1 387.17L293.2 387.7L294.3 384.83L295.4 382.36L296.5 381.56L297.6 378.65L298.7 377.92L299.8 376.95L300.9 372.15L302 372.86L303.1 368.01L304.2 366.96L305.3 364.78L306.4 366.16L307.5 364.71L308.6 362.32L309.7 362.94L310.8 363.94L311.9 363.71L313 362.46L314.1 365.3L315.2 367.3L316.3 369.93L317.4 372.57L318.5 378.56L319.6 379.26L320.7 380.73L321.8 386.63L322.9 385.86L324 389.59L325.1 388.01L326.2 390.69L327.3 388.94L328.4 393.94L329.5 393.06L330.6 392.33L331.7 396.09L332.8 395.16L333.9 394.45L335 393.65L336.1 393.87L337.2 390.99L338.3 398.14L339 400" stroke="#000" stroke-width="0.9" fill="none" stroke-linejoin="round"/>
<path d="M203 409.57L204.1 409.53L205.2 409.57L206.3 409.59L207.4 409.61L208.5 409.55L209.6 409.52L210.7 409.5L211.8 409.55L212.9 409.58L214 409.51L215.1 409.43L216.2 409.44L217.3 409.55L218.4 409.47L219.5 409.37L220.6 409.44L221.7 409.37L222.8 409.39L223.9 409.39L225 409.36L226.1 409.34L227.2 409.22L228.3 409.1L229.4 409.07L230.5 409.02L231.6 408.75L232.7 408.76L233.8 408.62L234.9 408.59L236 408.26L237.1 408.14L238.2 407.89L239.3 407.62L240.4 407.22L241.5 406.93L242.6 406.43L243.7 405.99L244.8 405.77L245.9 404.7L247 404.51L248.1 403.62L249.2 401.65L250.3 401.38L251.4 399.71L252.5 399.07L253.6 397.94L254.7 395.47L255.8 394.72L256.9 392.28L258 389.06L259.1 384.16L260.2 379.29L261.3 372.34L262.4 367.86L263.5 364.15L264.6 362.46L265.7 359.71L266.8 359.73L267.9 359.78L269 362.42L270.1 365.83L271.2 368.52L272.3 372.23L273.4 376.41L274.5 379.45L275.6 383.89L276.7 387.54L277.8 391.6L278.9 393.11L280 393.75L281.1 394.48L282.2 394.8L283.3 394.02L284.4 394.61L285.5 393.2L286.6 392.93L287.7 392.56L288.8 393.41L289.9 392.53L291 392.01L292.1 391.42L293.2 391.69L294.3 390.41L295.4 389.71L296.5 390.07L297.6 388.8L298.7 389.06L299.8 389.03L300.9 388.33L302 387.97L303.1 388.15L304.2 387.04L305.3 386.49L306.4 386.31L307.5 387.74L308.6 388.33L309.7 389.78L310.8 390.56L311.9 391.9L313 393.17L314.1 394.58L315.2 395.36L316.3 395.53L317.4 396.29L318.5 397.84L319.6 397.79L320.7 397.41L321.8 399.87L322.9 400.17L324 400.62L325.1 402.15L326.2 402.64L327.3 402.88L328.4 403L329.5 403.02L330.6 403.47L331.7 403.88L332.8 403.59L333.9 403.92L335 404.43L336.1 403.57L337.2 403.46L338.3 403.81L339 406" stroke="#000" stroke-width="2.7" fill="none" stroke-linejoin="round"/>
<path d="M372 409.78L373.1 409.36L374.2 409.61L375.3 409.51L376.4 409.51L377.5 409.52L378.6 409.34L379.7 409.5L380.8 409.42L381.9 409.8L383 409.5L384.1 409.43L385.2 409.43L386.3 409.38L387.4 409.32L388.5 409.38L389.6 409.46L390.7 409.37L391.8 409.49L392.9 409.35L394 409.37L395.1 409.53L396.2 409.4L397.3 409.27L398.4 409.3L399.5 409.37L400.6 409.52L401.7 409.23L402.8 409.21L403.9 409.35L405 409.08L406.1 409.14L407.2 409.27L408.3 409.21L409.4 409.12L410.5 409.19L411.6 408.66L412.7 409.2L413.8 408.88L414.9 408.75L416 408.8L417.1 408.62L418.2 408.09L419.3 407.05L420.4 405.21L421.5 402.96L422.6 402.01L423.7 398.72L424.8 395.25L425.9 392.58L427 386.99L428.1 382.8L429.2 382.56L430.3 380.36L431.4 377.01L432.5 374.98L433.6 377.13L434.7 382.79L435.8 395.09L436.9 399.56L438 399.38L439.1 402.87L440.2 403.68L441.3 405.88L442.4 404.73L443.5 405.6L444.6 406.63L445.7 407.07L446.8 406.05L447.9 406.82L449 407.12L450.1 406.78L451.2 407.59L452.3 406.56L453.4 407.13L454.5 406.61L455.6 407.52L456.7 406.9L457.8 406.26L458.9 405.1L460 406.35L461.1 405.36L462.2 404.48L463.3 403.9L464.4 402.34L465.5 400.42L466.6 398.07L467.7 395.61L468.8 396.28L469.9 390.54L471 388.65L472.1 385.21L473.2 382.13L474.3 379.07L475.4 373.29L476.5 369.25L477.6 368.76L478.7 367.61L479.8 364.24L480.9 360.55L482 356.41L483.1 355.41L484.2 356.22L485.3 360.53L486.4 361.91L487.5 367.04L488.6 370.64L489.7 376.24L490.8 380.76L491.9 388.72L493 388.45L494.1 389.55L495.2 386.05L496.3 389.36L497.4 390.09L498.5 392.65L499.6 390.07L500.7 395.64L501.8 396.8L502.9 395.2L504 397.1L505.1 398.94L506.2 401.1L507.3 402.38L508.4 404.25L509.5 403.06L510.6 404.54L511.7 405.25L512.5 406" stroke="#000" stroke-width="0.9" fill="none" stroke-linejoin="round"/>
<path d="M372 409.64L373.1 409.65L374.2 409.49L375.3 409.56L376.4 409.59L377.5 409.59L378.6 409.55L379.7 409.57L380.8 409.52L381.9 409.51L383 409.49L384.1 409.43L385.2 409.43L386.3 409.46L387.4 409.41L388.5 409.47L389.6 409.46L390.7 409.47L391.8 409.39L392.9 409.44L394 409.33L395.1 409.32L396.2 409.34L397.3 409.34L398.4 409.24L399.5 409.23L400.6 409.31L401.7 409.23L402.8 409.31L403.9 409.26L405 409.24L406.1 409.21L407.2 409.23L408.3 409.16L409.4 409.21L410.5 409.11L411.6 409.1L412.7 409.06L413.8 409.11L414.9 409.07L416 409L417.1 409.14L418.2 408.99L419.3 408.94L420.4 408.76L421.5 408.66L422.6 408.3L423.7 408.18L424.8 407.91L425.9 406.58L427 405.86L428.1 404.85L429.2 403.4L430.3 402.01L431.4 399.95L432.5 398.4L433.6 397.26L434.7 394L435.8 389.31L436.9 383.89L438 377.48L439.1 366.05L440.2 357.62L441.3 353.86L442.4 351.28L443.5 352L444.6 350.96L445.7 353.38L446.8 355.1L447.9 357.87L449 361.2L450.1 366.12L451.2 371.11L452.3 376.25L453.4 380.15L454.5 385.27L455.6 388.88L456.7 393.39L457.8 396.31L458.9 399.87L460 399.52L461.1 400.87L462.2 402.32L463.3 402L464.4 401.65L465.5 402.03L466.6 401.68L467.7 401.95L468.8 401.16L469.9 401.23L471 401.08L472.1 400.9L473.2 399.68L474.3 400.46L475.4 399.11L476.5 398.49L477.6 398.22L478.7 398.25L479.8 397.49L480.9 397.36L482 397.53L483.1 397.84L484.2 397.95L485.3 399.37L486.4 397.81L487.5 398.5L488.6 399.63L489.7 399.88L490.8 399.94L491.9 401.21L493 401.79L494.1 401.6L495.2 402.91L496.3 403.25L497.4 403.44L498.5 403.12L499.6 403.53L500.7 403.39L501.8 403.98L502.9 403.98L504 404.49L505.1 404.54L506.2 405.09L507.3 405.27L508.4 405.58L509.5 405.39L510.6 405.86L511.7 406.72L512.5 407" stroke="#000" stroke-width="2.7" fill="none" stroke-linejoin="round"/>
<path d="M109 397.7V410.2M109 406.8H166.6M166.6 397.7V410.2" stroke="#000" stroke-width="1" fill="none"/>
<text x="136.9" y="403.7" font-size="7" text-anchor="middle" stroke="#000" stroke-width="0.25">M1</text>
<path d="M282 402V410.2M282 402H339M339 402V410.2" stroke="#000" stroke-width="1" fill="none"/>
<text x="303" y="401" font-size="7" text-anchor="middle" stroke="#000" stroke-width="0.25">M1</text>
<path d="M458.8 387V407M458.8 397H508M508 387V407" stroke="#000" stroke-width="1" fill="none"/>
<text x="483.9" y="394" font-size="7" text-anchor="middle" stroke="#000" stroke-width="0.25">M1</text>
<rect x="114.4" y="298.3" width="54.6" height="51" stroke="#222" stroke-width="1.3" fill="none"/>
<text x="117.7" y="316.4" font-size="12.8" font-weight="bold" textLength="29.8" lengthAdjust="spacingAndGlyphs">IL-21</text>
<path d="M151.9 311.4L165 311.4" stroke="#000" stroke-width="3.4"/>
<text x="116.9" y="342.2" font-size="13" font-weight="bold" textLength="27.5" lengthAdjust="spacingAndGlyphs">CTR</text>
<path d="M152 336L165 336" stroke="#000" stroke-width="0.9"/>
<path d="M31.3 503.2L31.3 637.1" stroke="#000" stroke-width="1.4"/>
<path d="M31.3 636.5h-2.2M31.3 619.9h-2.2M31.3 603.3h-2.2M31.3 586.7h-2.2M31.3 570.1h-2.2M31.3 553.5h-2.2M31.3 536.9h-2.2M31.3 520.3h-2.2M31.3 503.7h-2.2" stroke="#000" stroke-width="1.1"/>
<text x="27.3" y="640.1" font-size="10" text-anchor="end" fill="#222" textLength="5.9" lengthAdjust="spacingAndGlyphs">0</text>
<text x="27.3" y="623.5" font-size="10" text-anchor="end" fill="#222" textLength="11.8" lengthAdjust="spacingAndGlyphs">10</text>
<text x="27.3" y="606.9" font-size="10" text-anchor="end" fill="#222" textLength="11.8" lengthAdjust="spacingAndGlyphs">20</text>
<text x="27.3" y="590.3" font-size="10" text-anchor="end" fill="#222" textLength="11.8" lengthAdjust="spacingAndGlyphs">30</text>
<text x="27.3" y="573.7" font-size="10" text-anchor="end" fill="#222" textLength="11.8" lengthAdjust="spacingAndGlyphs">40</text>
<text x="27.3" y="557.1" font-size="10" text-anchor="end" fill="#222" textLength="11.8" lengthAdjust="spacingAndGlyphs">50</text>
<text x="27.3" y="540.5" font-size="10" text-anchor="end" fill="#222" textLength="11.8" lengthAdjust="spacingAndGlyphs">60</text>
<text x="27.3" y="523.9" font-size="10" text-anchor="end" fill="#222" textLength="11.8" lengthAdjust="spacingAndGlyphs">70</text>
<text x="27.3" y="507.3" font-size="10" text-anchor="end" fill="#222" textLength="11.8" lengthAdjust="spacingAndGlyphs">80</text>
<path d="M31.3 636.5L178.8 636.5" stroke="#000" stroke-width="1.4"/>
<path d="M2.1 614.7L8.1 609.6V619.8Z" fill="none" stroke="#000" stroke-width="1.5" stroke-linejoin="miter"/>
<text transform="translate(9 605.5) rotate(-90)" font-size="10.3" font-weight="bold" textLength="93.2" lengthAdjust="spacingAndGlyphs">% OF APOPTOSIS</text>
<rect x="35.6" y="488.7" width="54.8" height="14.3" stroke="#000" stroke-width="1.3" fill="none"/>
<text x="63.35" y="500" font-size="10.2" font-weight="bold" text-anchor="middle" textLength="45.1" lengthAdjust="spacingAndGlyphs">ANN V/PI</text>
<rect x="110.8" y="488.7" width="53.8" height="14.3" stroke="#000" stroke-width="1.3" fill="none"/>
<text x="137.6" y="500" font-size="10.2" font-weight="bold" text-anchor="middle" textLength="31.8" lengthAdjust="spacingAndGlyphs">DiOC6</text>
<text x="36.3" y="652.5" font-size="10.2" font-weight="bold" textLength="27.4" lengthAdjust="spacingAndGlyphs">REST</text>
<text x="76.2" y="652.5" font-size="10.2" font-weight="bold" textLength="20.7" lengthAdjust="spacingAndGlyphs">ACT</text>
<text x="112.2" y="652.5" font-size="10.2" font-weight="bold" textLength="27.4" lengthAdjust="spacingAndGlyphs">REST</text>
<text x="152.6" y="652.5" font-size="10.2" font-weight="bold" textLength="20.8" lengthAdjust="spacingAndGlyphs">ACT</text>
<path d="M38.5 601.64L90.4 521.96M38.5 613.26L90.4 525.28M38.5 634.84L90.4 526.94M38.5 633.18L90.4 523.62M38.5 634.84L90.4 555.16M38.5 613.26L90.4 586.7M38.5 619.9L90.4 591.68M38.5 623.22L90.4 595M38.5 611.6L90.4 606.62M38.5 634.84L90.4 596.66M38.5 633.18L90.4 598.32M38.5 634.84L90.4 608.28M38.5 634.84L90.4 609.94M38.5 634.84L90.4 611.6M38.5 634.84L90.4 613.26M38.5 634.84L90.4 616.58" stroke="#000" stroke-width="1.5"/>
<path d="M35.7 598.84l5.6 5.6M35.7 604.44l5.6 -5.6" stroke="#000" stroke-width="1.5"/>
<circle cx="90.4" cy="521.96" r="2.3" fill="#fff" stroke="#000" stroke-width="1.5"/>
<path d="M35.7 610.46l5.6 5.6M35.7 616.06l5.6 -5.6" stroke="#000" stroke-width="1.5"/>
<path d="M87.6 522.48l5.6 5.6M87.6 528.08l5.6 -5.6" stroke="#000" stroke-width="1.5"/>
<rect x="35.7" y="632.04" width="5.6" height="5.6" fill="#000"/>
<path d="M87.6 524.14l5.6 5.6M87.6 529.74l5.6 -5.6" stroke="#000" stroke-width="1.5"/>
<rect x="35.7" y="630.38" width="5.6" height="5.6" fill="#000"/>
<circle cx="90.4" cy="523.62" r="2.3" fill="#fff" stroke="#000" stroke-width="1.5"/>
<rect x="35.7" y="632.04" width="5.6" height="5.6" fill="#000"/>
<path d="M90.4 552.08l3.08 5.32h-6.16z" fill="#fff" stroke="#000" stroke-width="1.5"/>
<rect x="33.5" y="611.66" width="10" height="3.2" fill="#b4b4b4"/>
<rect x="85.4" y="585.1" width="10" height="3.2" fill="#b4b4b4"/>
<circle cx="38.5" cy="619.9" r="2.3" fill="#fff" stroke="#000" stroke-width="1.5"/>
<circle cx="90.4" cy="591.68" r="2.8" fill="#000"/>
<path d="M38.5 619.86l3.08 3.36l-3.08 3.36l-3.08 -3.36z" fill="#fff" stroke="#000" stroke-width="1.5"/>
<rect x="87.6" y="592.2" width="5.6" height="5.6" fill="#000"/>
<path d="M35.7 608.8l5.6 5.6M35.7 614.4l5.6 -5.6" stroke="#000" stroke-width="1.5"/>
<path d="M87.6 603.82l5.6 5.6M87.6 609.42l5.6 -5.6" stroke="#000" stroke-width="1.5"/>
<rect x="35.7" y="632.04" width="5.6" height="5.6" fill="#000"/>
<rect x="87.6" y="593.86" width="5.6" height="5.6" fill="#000"/>
<rect x="35.7" y="630.38" width="5.6" height="5.6" fill="#000"/>
<rect x="87.6" y="595.52" width="5.6" height="5.6" fill="#000"/>
<rect x="35.7" y="632.04" width="5.6" height="5.6" fill="#000"/>
<rect x="87.6" y="605.48" width="5.6" height="5.6" fill="#000"/>
<rect x="35.7" y="632.04" width="5.6" height="5.6" fill="#000"/>
<rect x="88.1" y="607.64" width="4.6" height="4.6" fill="#fff" stroke="#000" stroke-width="1.5"/>
<rect x="35.7" y="632.04" width="5.6" height="5.6" fill="#000"/>
<rect x="87.6" y="608.8" width="5.6" height="5.6" fill="#000"/>
<rect x="35.7" y="632.04" width="5.6" height="5.6" fill="#000"/>
<rect x="87.6" y="610.46" width="5.6" height="5.6" fill="#000"/>
<rect x="35.7" y="632.04" width="5.6" height="5.6" fill="#000"/>
<rect x="87.6" y="613.78" width="5.6" height="5.6" fill="#000"/>
<path d="M113.5 604.96L166 518.64M113.5 609.94L166 526.94M113.5 614.92L166 530.26M113.5 603.3L166 558.48M113.5 628.2L166 561.8M113.5 631.52L166 575.08M113.5 621.56L166 578.4M113.5 633.18L166 586.7M113.5 626.54L166 590.02M113.5 633.18L166 595M113.5 634.84L166 598.32M113.5 631.52L166 603.3M113.5 634.84L166 608.28M113.5 633.18L166 611.6M113.5 634.84L166 614.92" stroke="#000" stroke-width="1.5"/>
<path d="M110.7 602.16l5.6 5.6M110.7 607.76l5.6 -5.6" stroke="#000" stroke-width="1.5"/>
<path d="M163.2 515.84l5.6 5.6M163.2 521.44l5.6 -5.6M166 515.84v5.6" stroke="#000" stroke-width="1.5"/>
<path d="M110.7 607.14l5.6 5.6M110.7 612.74l5.6 -5.6" stroke="#000" stroke-width="1.5"/>
<path d="M166 523.58l3.08 3.36l-3.08 3.36l-3.08 -3.36z" fill="#fff" stroke="#000" stroke-width="1.5"/>
<circle cx="113.5" cy="614.92" r="2.3" fill="#fff" stroke="#000" stroke-width="1.5"/>
<path d="M163.2 527.46l5.6 5.6M163.2 533.06l5.6 -5.6" stroke="#000" stroke-width="1.5"/>
<rect x="108.5" y="601.7" width="10" height="3.2" fill="#b4b4b4"/>
<rect x="161" y="556.88" width="10" height="3.2" fill="#b4b4b4"/>
<path d="M110.7 625.4l5.6 5.6M110.7 631l5.6 -5.6" stroke="#000" stroke-width="1.5"/>
<rect x="163.2" y="559" width="5.6" height="5.6" fill="#000"/>
<rect x="110.7" y="628.72" width="5.6" height="5.6" fill="#000"/>
<circle cx="166" cy="575.08" r="2.3" fill="#fff" stroke="#000" stroke-width="1.5"/>
<circle cx="113.5" cy="621.56" r="2.3" fill="#fff" stroke="#000" stroke-width="1.5"/>
<rect x="163.2" y="575.6" width="5.6" height="5.6" fill="#000"/>
<rect x="110.7" y="630.38" width="5.6" height="5.6" fill="#000"/>
<path d="M163.2 586.7h5.6M166 583.9v5.6" stroke="#000" stroke-width="1.5"/>
<path d="M110.7 623.74l5.6 5.6M110.7 629.34l5.6 -5.6" stroke="#000" stroke-width="1.5"/>
<path d="M163.2 587.22l5.6 5.6M163.2 592.82l5.6 -5.6" stroke="#000" stroke-width="1.5"/>
<rect x="110.7" y="630.38" width="5.6" height="5.6" fill="#000"/>
<path d="M166 591.92l3.22 5.6h-6.44z" fill="#000"/>
<rect x="110.7" y="632.04" width="5.6" height="5.6" fill="#000"/>
<path d="M163.2 595.52l5.6 5.6M163.2 601.12l5.6 -5.6" stroke="#000" stroke-width="1.5"/>
<path d="M110.7 628.72l5.6 5.6M110.7 634.32l5.6 -5.6" stroke="#000" stroke-width="1.5"/>
<path d="M166 599.94l3.08 3.36l-3.08 3.36l-3.08 -3.36z" fill="#fff" stroke="#000" stroke-width="1.5"/>
<rect x="110.7" y="632.04" width="5.6" height="5.6" fill="#000"/>
<path d="M163.2 605.48l5.6 5.6M163.2 611.08l5.6 -5.6" stroke="#000" stroke-width="1.5"/>
<rect x="110.7" y="630.38" width="5.6" height="5.6" fill="#000"/>
<rect x="163.7" y="609.3" width="4.6" height="4.6" fill="#fff" stroke="#000" stroke-width="1.5"/>
<rect x="110.7" y="632.04" width="5.6" height="5.6" fill="#000"/>
<rect x="163.7" y="612.62" width="4.6" height="4.6" fill="#fff" stroke="#000" stroke-width="1.5"/>
<path d="M206.3 504.3L206.3 636.9" stroke="#000" stroke-width="1.4"/>
<path d="M206.3 636.3h-2.2M206.3 610h-2.2M206.3 583.7h-2.2M206.3 557.4h-2.2M206.3 531.1h-2.2M206.3 504.8h-2.2" stroke="#000" stroke-width="1.1"/>
<text x="202" y="639.9" font-size="10" text-anchor="end" fill="#222" textLength="5.9" lengthAdjust="spacingAndGlyphs">0</text>
<text x="202" y="613.6" font-size="10" text-anchor="end" fill="#222" textLength="11.8" lengthAdjust="spacingAndGlyphs">20</text>
<text x="202" y="587.3" font-size="10" text-anchor="end" fill="#222" textLength="11.8" lengthAdjust="spacingAndGlyphs">40</text>
<text x="202" y="561" font-size="10" text-anchor="end" fill="#222" textLength="11.8" lengthAdjust="spacingAndGlyphs">60</text>
<text x="202" y="534.7" font-size="10" text-anchor="end" fill="#222" textLength="11.8" lengthAdjust="spacingAndGlyphs">80</text>
<text x="202" y="508.4" font-size="10" text-anchor="end" fill="#222" textLength="17.7" lengthAdjust="spacingAndGlyphs">100</text>
<path d="M206.3 636.3L325.3 636.3" stroke="#000" stroke-width="1.4"/>
<path d="M179.6 614.7L186.1 609.6V619.8Z" fill="none" stroke="#000" stroke-width="1.5" stroke-linejoin="miter"/>
<text transform="translate(187 605.5) rotate(-90)" font-size="10.3" font-weight="bold" textLength="93.2" lengthAdjust="spacingAndGlyphs">% OF APOPTOSIS</text>
<path d="M238.8 559.64L270.9 549.77L303.4 543.86" stroke="#000" stroke-width="1.9" fill="none"/>
<path d="M238.8 556.39l3 3.25l-3 3.25l-3 -3.25z" fill="#000"/>
<path d="M270.9 546.52l3 3.25l-3 3.25l-3 -3.25z" fill="#000"/>
<path d="M303.4 540.61l3 3.25l-3 3.25l-3 -3.25z" fill="#000"/>
<path d="M308.1 543.1L318.9 543.1" stroke="#000" stroke-width="1.6"/>
<path d="M313.5 540.24l2.64 2.86l-2.64 2.86l-2.64 -2.86z" fill="#000"/>
<text x="320.2" y="545" font-size="8.9" font-weight="bold" textLength="14.2" lengthAdjust="spacingAndGlyphs">N.6</text>
<path d="M238.8 596.85L270.9 586.33L303.4 565.03" stroke="#000" stroke-width="1.9" fill="none"/>
<rect x="236.3" y="594.35" width="5" height="5" fill="#000"/>
<rect x="268.4" y="583.83" width="5" height="5" fill="#000"/>
<rect x="300.9" y="562.53" width="5" height="5" fill="#000"/>
<path d="M308.1 565.8L318.9 565.8" stroke="#000" stroke-width="1.6"/>
<rect x="311.3" y="563.6" width="4.4" height="4.4" fill="#000"/>
<text x="320.2" y="567.7" font-size="8.9" font-weight="bold" textLength="18.9" lengthAdjust="spacingAndGlyphs">N.12</text>
<path d="M238.8 570.81L270.9 555.03L303.4 543.86" stroke="#000" stroke-width="1.9" fill="none"/>
<path d="M238.8 568.06l2.88 5h-5.75z" fill="#000"/>
<path d="M270.9 552.28l2.88 5h-5.75z" fill="#000"/>
<path d="M303.4 541.11l2.88 5h-5.75z" fill="#000"/>
<path d="M308.1 588.4L318.9 588.4" stroke="#000" stroke-width="1.6"/>
<path d="M313.5 585.98l2.53 4.4h-5.06z" fill="#000"/>
<text x="320.2" y="590.3" font-size="8.9" font-weight="bold" textLength="18.9" lengthAdjust="spacingAndGlyphs">N.13</text>
<path d="M238.8 625.65L270.9 616.57L303.4 598.82" stroke="#000" stroke-width="1.9" fill="none"/>
<path d="M236.3 623.15l5 5M236.3 628.15l5 -5" stroke="#000" stroke-width="1.5"/>
<path d="M268.4 614.07l5 5M268.4 619.07l5 -5" stroke="#000" stroke-width="1.5"/>
<path d="M300.9 596.32l5 5M300.9 601.32l5 -5" stroke="#000" stroke-width="1.5"/>
<path d="M308.1 610.8L318.9 610.8" stroke="#000" stroke-width="1.6"/>
<path d="M311.3 608.6l4.4 4.4M311.3 613l4.4 -4.4" stroke="#000" stroke-width="1.3"/>
<text x="320.2" y="612.7" font-size="8.9" font-weight="bold" textLength="18.9" lengthAdjust="spacingAndGlyphs">N.21</text>
<text x="236.2" y="651.9" font-size="10.6" font-weight="bold" textLength="18.4" lengthAdjust="spacingAndGlyphs">24h</text>
<text x="267.5" y="651.9" font-size="10.6" font-weight="bold" textLength="18.3" lengthAdjust="spacingAndGlyphs">48h</text>
<text x="301.2" y="651.9" font-size="10.6" font-weight="bold" textLength="18.2" lengthAdjust="spacingAndGlyphs">72h</text>
<text x="224.2" y="664" font-size="10" font-weight="bold" textLength="102" lengthAdjust="spacingAndGlyphs">CD40L-ACTIVATION</text>
<path d="M375.2 501.4L375.2 636.5" stroke="#000" stroke-width="1.4"/>
<path d="M375.2 635.9h-2.2M375.2 619.15h-2.2M375.2 602.4h-2.2M375.2 585.65h-2.2M375.2 568.9h-2.2M375.2 552.15h-2.2M375.2 535.4h-2.2M375.2 518.65h-2.2M375.2 501.9h-2.2" stroke="#000" stroke-width="1.1"/>
<text x="369.8" y="639.5" font-size="10" text-anchor="end" fill="#222" textLength="5.9" lengthAdjust="spacingAndGlyphs">0</text>
<text x="369.8" y="622.75" font-size="10" text-anchor="end" fill="#222" textLength="11.8" lengthAdjust="spacingAndGlyphs">10</text>
<text x="369.8" y="606" font-size="10" text-anchor="end" fill="#222" textLength="11.8" lengthAdjust="spacingAndGlyphs">20</text>
<text x="369.8" y="589.25" font-size="10" text-anchor="end" fill="#222" textLength="11.8" lengthAdjust="spacingAndGlyphs">30</text>
<text x="369.8" y="572.5" font-size="10" text-anchor="end" fill="#222" textLength="11.8" lengthAdjust="spacingAndGlyphs">40</text>
<text x="369.8" y="555.75" font-size="10" text-anchor="end" fill="#222" textLength="11.8" lengthAdjust="spacingAndGlyphs">50</text>
<text x="369.8" y="539" font-size="10" text-anchor="end" fill="#222" textLength="11.8" lengthAdjust="spacingAndGlyphs">60</text>
<text x="369.8" y="522.25" font-size="10" text-anchor="end" fill="#222" textLength="11.8" lengthAdjust="spacingAndGlyphs">70</text>
<text x="369.8" y="505.5" font-size="10" text-anchor="end" fill="#222" textLength="11.8" lengthAdjust="spacingAndGlyphs">80</text>
<path d="M375.2 635.9L486.8 635.9" stroke="#000" stroke-width="1.4"/>
<path d="M346.9 614.7L353.2 609.6V619.8Z" fill="none" stroke="#000" stroke-width="1.5" stroke-linejoin="miter"/>
<text transform="translate(354.1 605.5) rotate(-90)" font-size="10.3" font-weight="bold" textLength="93.2" lengthAdjust="spacingAndGlyphs">% OF APOPTOSIS</text>
<path d="M396.8 619.15L434.2 596.87L471.7 577.94" stroke="#000" stroke-width="1.9" fill="none"/>
<path d="M396.8 625.85L434.2 612.45L471.7 590.34" stroke="#000" stroke-width="1.9" fill="none"/>
<path d="M396.8 563.04L434.2 546.79L471.7 534.56" stroke="#000" stroke-width="1.9" fill="none"/>
<path d="M396.8 545.45L434.2 525.01L471.7 515.3" stroke="#000" stroke-width="1.9" fill="none"/>
<path d="M396.8 602.4L434.2 582.3L471.7 573.09" stroke="#000" stroke-width="1.9" fill="none"/>
<path d="M396.8 609.94L434.2 601.23L471.7 569.24" stroke="#000" stroke-width="1.9" fill="none"/>
<rect x="394" y="616.35" width="5.6" height="5.6" fill="#000"/>
<rect x="431.4" y="594.07" width="5.6" height="5.6" fill="#000"/>
<rect x="468.9" y="575.14" width="5.6" height="5.6" fill="#000"/>
<path d="M485 510.8L495.8 510.8" stroke="#000" stroke-width="1.8"/>
<rect x="487.4" y="507.7" width="6.2" height="6.2" fill="#000"/>
<text x="496.5" y="512.1" font-size="9.3" font-weight="bold" textLength="15" lengthAdjust="spacingAndGlyphs">N.8</text>
<path d="M393.3 625.85L400.3 625.85" stroke="#000" stroke-width="1.3"/>
<path d="M430.7 612.45L437.7 612.45" stroke="#000" stroke-width="1.3"/>
<path d="M468.2 590.34L475.2 590.34" stroke="#000" stroke-width="1.3"/>
<path d="M485 533.5L495.8 533.5" stroke="#000" stroke-width="2.2"/>
<text x="496.5" y="534.8" font-size="9.3" font-weight="bold" textLength="19.3" lengthAdjust="spacingAndGlyphs">N.11</text>
<path d="M396.8 559.96l3.22 5.6h-6.44z" fill="#000"/>
<path d="M434.2 543.71l3.22 5.6h-6.44z" fill="#000"/>
<path d="M471.7 531.48l3.22 5.6h-6.44z" fill="#000"/>
<path d="M485 556.3L495.8 556.3" stroke="#000" stroke-width="1.8"/>
<path d="M490.5 553.33l3.1 5.4h-6.21z" fill="#000"/>
<text x="496.5" y="557.6" font-size="9.3" font-weight="bold" textLength="19.3" lengthAdjust="spacingAndGlyphs">N.13</text>
<path d="M396.8 541.81l3.36 3.64l-3.36 3.64l-3.36 -3.64z" fill="#000"/>
<path d="M434.2 521.38l3.36 3.64l-3.36 3.64l-3.36 -3.64z" fill="#000"/>
<path d="M471.7 511.66l3.36 3.64l-3.36 3.64l-3.36 -3.64z" fill="#000"/>
<path d="M485 579.1L495.8 579.1" stroke="#000" stroke-width="1.8"/>
<path d="M490.5 575.59l3.24 3.51l-3.24 3.51l-3.24 -3.51z" fill="#000"/>
<text x="496.5" y="580.4" font-size="9.3" font-weight="bold" textLength="19.3" lengthAdjust="spacingAndGlyphs">N.14</text>
<path d="M396.8 597.92L398.03 600.7L401.06 601.02L398.8 603.05L399.43 606.02L396.8 604.5L394.17 606.02L394.8 603.05L392.54 601.02L395.57 600.7Z" stroke="#000" stroke-width="1.5" fill="#fff"/>
<path d="M434.2 577.82L435.43 580.6L438.46 580.92L436.2 582.95L436.83 585.92L434.2 584.4L431.57 585.92L432.2 582.95L429.94 580.92L432.97 580.6Z" stroke="#000" stroke-width="1.5" fill="#fff"/>
<path d="M471.7 568.61L472.93 571.39L475.96 571.7L473.7 573.74L474.33 576.71L471.7 575.19L469.07 576.71L469.7 573.74L467.44 571.7L470.47 571.39Z" stroke="#000" stroke-width="1.5" fill="#fff"/>
<path d="M490.5 596.46L492 599.84L495.67 600.22L492.93 602.69L493.7 606.3L490.5 604.45L487.3 606.3L488.07 602.69L485.33 600.22L489 599.84Z" stroke="#000" stroke-width="1.5" fill="#fff"/>
<path d="M485 601.9L495.8 601.9" stroke="#000" stroke-width="1.8"/>
<text x="496.5" y="603.2" font-size="9.3" font-weight="bold" textLength="19.3" lengthAdjust="spacingAndGlyphs">N.15</text>
<circle cx="396.8" cy="609.94" r="3.2" fill="#fff" stroke="#000" stroke-width="1.5"/>
<circle cx="434.2" cy="601.23" r="3.2" fill="#fff" stroke="#000" stroke-width="1.5"/>
<circle cx="471.7" cy="569.24" r="3.2" fill="#fff" stroke="#000" stroke-width="1.5"/>
<circle cx="490.5" cy="624.7" r="3.3" fill="#fff" stroke="#000" stroke-width="1.5"/>
<path d="M485 624.7L495.8 624.7" stroke="#000" stroke-width="1.8"/>
<text x="496.5" y="626" font-size="9.3" font-weight="bold" textLength="19.3" lengthAdjust="spacingAndGlyphs">N.16</text>
<path d="M396.8 635.9L396.8 638.5" stroke="#000" stroke-width="1"/>
<path d="M434.2 635.9L434.2 638.5" stroke="#000" stroke-width="1"/>
<path d="M471.7 635.9L471.7 638.5" stroke="#000" stroke-width="1"/>
<text x="391.3" y="652.8" font-size="10.3" font-weight="bold" textLength="12.4" lengthAdjust="spacingAndGlyphs">20</text>
<text x="429.8" y="652.8" font-size="10.3" font-weight="bold" textLength="12.7" lengthAdjust="spacingAndGlyphs">40</text>
<text x="466.2" y="652.8" font-size="10.3" font-weight="bold" textLength="12.6" lengthAdjust="spacingAndGlyphs">80</text>
<text x="489" y="652.8" font-size="10.3" font-weight="bold" textLength="31" lengthAdjust="spacingAndGlyphs">ng/mL</text>
<text x="423.6" y="666.6" font-size="10.5" font-weight="bold" textLength="22.4" lengthAdjust="spacingAndGlyphs">IL-21</text></svg>
</body></html>
